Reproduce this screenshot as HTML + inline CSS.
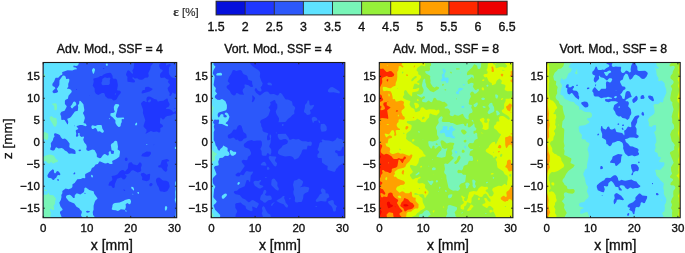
<!DOCTYPE html>
<html><head><meta charset="utf-8"><style>
html,body{margin:0;padding:0;background:#fff;}
body{width:685px;height:253px;overflow:hidden;}
svg{display:block;will-change:transform;}
text{font-family:"Liberation Sans",sans-serif;fill:#111;stroke:#111;stroke-width:0.35px;}
.t{font-size:11.5px;}
.cb{font-size:12.4px;}
.ti{font-size:12.3px;}
.al{font-size:13.5px;}
.ax{font-size:14px;}
.eps{font-size:11.5px;fill:#333;stroke:#333;stroke-width:0.2px;}
.ep{font-family:"Liberation Serif",serif;font-weight:bold;font-size:13px;}
</style></head><body>
<svg width="685" height="253" viewBox="0 0 685 253">
<rect width="685" height="253" fill="#fff"/>
<defs>
<clipPath id="c0"><rect x="43.10" y="62.50" width="133.60" height="155.20"/></clipPath>
<clipPath id="c1"><rect x="211.20" y="62.50" width="133.60" height="155.20"/></clipPath>
<clipPath id="c2"><rect x="379.30" y="62.50" width="133.60" height="155.20"/></clipPath>
<clipPath id="c3"><rect x="546.60" y="62.50" width="133.60" height="155.20"/></clipPath>
</defs>
<rect x="216.10" y="1.20" width="29.10" height="13.70" fill="#0510dc"/>
<rect x="245.20" y="1.20" width="29.10" height="13.70" fill="#1f37ff"/>
<rect x="274.30" y="1.20" width="29.10" height="13.70" fill="#2c58fa"/>
<rect x="303.40" y="1.20" width="29.10" height="13.70" fill="#5ee2ff"/>
<rect x="332.50" y="1.20" width="29.10" height="13.70" fill="#78f5b8"/>
<rect x="361.60" y="1.20" width="29.10" height="13.70" fill="#96f03a"/>
<rect x="390.70" y="1.20" width="29.10" height="13.70" fill="#dcfc00"/>
<rect x="419.80" y="1.20" width="29.10" height="13.70" fill="#ffa000"/>
<rect x="448.90" y="1.20" width="29.10" height="13.70" fill="#ff2800"/>
<rect x="478.00" y="1.20" width="29.10" height="13.70" fill="#ee0000"/>
<line x1="245.20" y1="1.20" x2="245.20" y2="14.90" stroke="#222" stroke-width="0.9"/>
<line x1="274.30" y1="1.20" x2="274.30" y2="14.90" stroke="#222" stroke-width="0.9"/>
<line x1="303.40" y1="1.20" x2="303.40" y2="14.90" stroke="#222" stroke-width="0.9"/>
<line x1="332.50" y1="1.20" x2="332.50" y2="14.90" stroke="#222" stroke-width="0.9"/>
<line x1="361.60" y1="1.20" x2="361.60" y2="14.90" stroke="#222" stroke-width="0.9"/>
<line x1="390.70" y1="1.20" x2="390.70" y2="14.90" stroke="#222" stroke-width="0.9"/>
<line x1="419.80" y1="1.20" x2="419.80" y2="14.90" stroke="#222" stroke-width="0.9"/>
<line x1="448.90" y1="1.20" x2="448.90" y2="14.90" stroke="#222" stroke-width="0.9"/>
<line x1="478.00" y1="1.20" x2="478.00" y2="14.90" stroke="#222" stroke-width="0.9"/>
<rect x="216.10" y="1.20" width="291.00" height="13.70" fill="none" stroke="#222" stroke-width="1"/>
<text x="216.10" y="30.8" text-anchor="middle" class="cb">1.5</text>
<text x="245.20" y="30.8" text-anchor="middle" class="cb">2</text>
<text x="274.30" y="30.8" text-anchor="middle" class="cb">2.5</text>
<text x="303.40" y="30.8" text-anchor="middle" class="cb">3</text>
<text x="332.50" y="30.8" text-anchor="middle" class="cb">3.5</text>
<text x="361.60" y="30.8" text-anchor="middle" class="cb">4</text>
<text x="390.70" y="30.8" text-anchor="middle" class="cb">4.5</text>
<text x="419.80" y="30.8" text-anchor="middle" class="cb">5</text>
<text x="448.90" y="30.8" text-anchor="middle" class="cb">5.5</text>
<text x="478.00" y="30.8" text-anchor="middle" class="cb">6</text>
<text x="507.10" y="30.8" text-anchor="middle" class="cb">6.5</text>
<text x="186" y="16.2" text-anchor="middle" class="eps"><tspan class="ep">ε</tspan> [%]</text>
<g clip-path="url(#c0)">
<rect x="43.10" y="62.50" width="133.60" height="155.20" fill="#1f37ff"/>
<path fill="#2c58fa" fill-rule="evenodd" d="M176.6 217.7L43.3 217.7L43.3 62.7L134.2 62.7L133.7 68.3L132.3 70.7L133.1 72.7L133.0 73.7L131.6 73.3L129.7 71.0L128.3 70.2L127.4 70.7L126.0 74.3L126.3 75.4L127.5 77.0L127.3 79.3L127.6 81.7L133.3 82.5L134.7 82.3L135.1 81.3L134.3 79.9L132.3 78.3L132.6 77.3L133.3 77.3L134.6 78.6L137.3 78.2L138.9 79.5L141.3 79.8L142.9 79.5L144.9 77.7L147.9 77.6L148.8 76.0L148.2 73.3L150.4 68.7L150.6 66.3L152.6 63.9L153.1 62.7L160.9 62.7L160.6 63.3L159.3 64.3L159.2 66.3L160.3 69.1L162.3 69.7L162.8 71.0L160.5 73.3L160.0 75.0L160.1 76.7L160.9 78.1L164.6 77.5L166.9 79.2L168.9 79.7L167.8 82.0L169.9 84.3L170.0 85.0L169.5 86.0L167.8 87.7L167.6 88.3L168.4 91.0L169.9 93.3L169.3 95.3L169.9 95.9L170.9 95.7L172.6 92.6L174.6 93.7L176.6 93.6L176.6 110.9L175.6 111.0L173.6 112.5L171.6 110.3L169.9 109.2L168.6 108.9L165.9 109.0L166.4 107.7L168.6 106.7L169.6 105.0L169.5 103.7L168.1 101.3L167.7 99.0L167.3 98.5L166.3 98.7L163.3 100.7L159.9 101.1L157.9 101.7L156.6 99.6L154.3 98.9L150.3 96.7L148.6 96.6L147.3 97.0L146.6 97.9L146.4 99.7L146.9 101.7L146.6 101.9L145.9 102.0L144.3 101.0L143.3 100.9L141.4 102.7L140.9 103.7L143.1 109.7L142.9 113.0L145.3 120.3L143.5 126.0L143.9 127.1L146.5 129.7L146.5 131.7L145.6 133.3L145.8 133.7L150.9 131.1L153.6 132.0L156.9 131.4L158.9 132.4L159.9 132.3L160.4 131.3L160.3 128.1L162.6 126.9L163.0 126.0L162.3 124.8L159.9 123.3L160.3 117.7L161.1 117.7L162.3 119.3L163.3 119.5L164.1 119.0L165.5 117.0L167.3 115.9L170.9 115.5L174.3 113.6L176.6 114.2L176.6 217.7ZM176.6 78.4L171.9 77.5L169.6 75.0L168.8 72.7L169.0 67.7L169.3 66.9L170.6 65.7L170.7 65.0L170.3 64.3L169.3 64.1L166.3 65.4L165.9 64.7L166.4 62.7L176.6 62.7L176.6 78.4ZM104.0 69.0L104.4 68.7L104.0 68.0L103.0 68.3L103.1 69.0L104.0 69.0ZM115.0 100.3L116.6 99.3L118.6 95.4L120.6 93.3L120.9 92.0L119.9 90.8L117.6 90.6L117.0 90.0L117.9 85.3L117.0 80.0L115.9 78.7L113.6 78.7L112.7 78.3L112.5 75.7L110.9 73.1L109.9 72.7L106.6 73.2L103.6 74.4L101.9 76.0L100.3 76.1L97.9 77.4L93.6 78.5L93.3 79.3L93.8 81.7L92.7 85.7L94.6 88.3L94.8 91.7L95.9 93.7L98.3 95.1L101.9 93.0L103.9 92.9L104.6 93.7L105.3 96.2L107.9 98.4L111.6 98.8L113.3 100.4L115.0 100.3ZM108.6 85.1L105.9 84.9L102.9 85.2L101.9 84.8L101.3 83.0L102.2 81.0L102.3 79.0L104.9 77.2L107.3 78.0L109.3 77.4L110.1 78.0L110.5 78.7L109.7 80.3L109.9 83.3L109.5 84.3L108.6 85.1ZM143.4 93.3L149.6 91.5L152.3 89.8L152.5 88.7L148.3 86.8L145.6 87.1L145.0 88.0L144.9 89.9L142.9 90.1L141.8 91.7L141.6 92.7L141.9 93.5L143.4 93.3ZM77.1 89.7L76.9 88.9L75.9 89.2L76.3 89.9L77.1 89.7ZM115.6 94.8L114.6 94.3L115.3 93.3L116.1 93.7L116.1 94.3L115.6 94.8ZM90.1 96.0L89.6 95.6L89.7 96.0L90.1 96.0ZM149.3 102.4L147.9 102.0L147.8 101.3L148.9 99.7L150.3 99.2L151.0 100.0L151.2 101.0L149.3 102.4ZM175.3 109.0L175.3 108.1L174.3 108.0L174.6 109.0L175.3 109.0ZM154.2 145.0L154.3 144.5L153.6 144.7L153.6 145.2L154.2 145.0ZM148.2 156.7L149.4 156.0L150.9 154.0L151.0 152.7L150.3 151.8L146.6 151.4L143.9 153.1L142.3 153.7L141.4 155.7L141.6 156.2L144.9 156.8L148.2 156.7ZM126.9 161.0L127.6 160.0L127.6 158.7L126.9 157.8L125.9 157.5L125.0 158.3L124.8 160.0L125.6 160.9L126.9 161.0ZM166.1 171.7L167.4 170.0L167.0 168.0L168.0 165.3L166.6 161.8L168.9 161.3L169.3 160.7L168.4 159.7L166.9 159.0L161.9 160.3L160.3 165.0L158.6 165.4L158.0 166.3L158.9 167.6L161.3 167.5L163.4 170.3L165.3 171.7L166.1 171.7ZM114.0 188.0L114.7 187.0L114.8 184.3L117.1 178.7L120.9 177.4L121.9 177.9L122.9 179.4L124.9 179.2L126.7 176.3L126.3 175.5L125.3 174.9L125.3 174.1L126.9 174.3L128.6 173.8L129.7 173.0L131.3 170.8L132.3 170.3L133.3 170.2L137.6 172.4L140.3 171.7L141.3 170.3L140.8 168.0L141.8 165.0L141.2 163.0L140.3 162.4L139.3 162.4L137.9 164.7L136.9 165.3L133.0 164.3L131.6 162.3L129.6 162.4L128.8 163.0L128.3 164.0L127.9 168.3L125.6 171.1L124.9 171.4L123.3 170.0L121.9 169.9L119.6 171.5L117.6 174.2L114.9 175.4L111.6 175.9L112.3 178.7L112.3 179.9L111.6 180.8L109.6 182.0L108.4 185.0L108.9 185.7L111.3 185.8L112.8 188.0L114.0 188.0ZM146.6 181.3L148.9 180.2L149.7 179.3L150.2 174.3L149.3 173.8L146.6 174.8L143.6 172.8L141.3 173.3L140.7 174.7L142.3 177.3L142.0 179.7L142.9 180.3L146.6 181.3ZM164.8 192.0L167.3 191.0L169.5 187.3L169.7 186.0L168.6 182.0L166.3 180.8L162.9 180.6L159.3 177.5L157.6 177.7L156.2 179.0L155.9 181.0L157.2 185.0L158.7 187.3L159.5 190.3L160.6 191.4L162.3 191.4L163.9 192.1L164.8 192.0ZM151.1 186.3L152.2 185.3L152.6 184.3L152.1 183.3L150.9 182.9L149.9 183.4L149.2 185.0L149.9 186.2L151.1 186.3ZM125.3 190.7L124.7 189.7L123.6 189.3L123.5 190.0L123.9 190.6L124.6 191.0L125.3 190.7Z"/>
<path fill="#5ee2ff" fill-rule="evenodd" d="M61.9 217.7L43.3 217.7L43.3 62.7L78.9 62.7L78.3 64.7L77.3 65.7L75.9 66.1L73.9 65.5L73.3 66.0L73.6 67.3L75.6 67.6L77.0 68.7L76.9 69.2L74.6 69.6L72.3 70.6L67.6 70.3L62.5 72.0L62.1 72.3L62.4 73.7L62.1 74.7L60.3 75.6L58.3 77.7L55.9 77.8L55.3 78.3L54.2 81.3L52.3 84.0L52.6 86.1L54.6 86.9L55.5 88.3L52.6 91.0L52.6 92.3L53.9 93.2L56.6 92.7L57.6 92.2L58.1 91.3L56.7 88.7L57.9 87.6L59.3 85.0L59.5 80.3L62.6 75.7L63.9 75.4L65.1 76.0L65.7 77.0L66.1 79.0L68.6 78.7L69.3 79.3L69.3 80.9L68.2 84.0L68.3 86.7L67.1 88.3L67.6 89.0L68.9 88.7L70.6 89.4L71.6 90.7L71.7 92.0L68.5 95.7L67.9 98.7L65.6 99.7L64.9 100.7L64.9 104.0L66.6 106.0L66.7 106.7L64.6 110.8L61.5 111.7L60.5 113.0L60.3 114.3L61.1 116.3L61.3 119.6L61.9 120.0L63.6 119.7L64.7 120.0L67.3 124.2L67.9 124.3L68.3 122.0L67.3 119.3L67.4 118.7L69.9 117.8L70.9 117.1L74.9 111.5L77.8 110.7L78.2 107.0L77.8 105.3L79.1 103.7L79.3 101.3L79.9 100.8L80.6 101.0L83.4 104.3L84.3 109.7L84.2 111.0L82.9 113.0L84.3 115.7L84.9 118.0L83.5 123.0L85.9 123.8L86.7 125.7L85.6 126.2L82.3 125.0L79.9 125.0L76.9 126.0L76.6 126.7L77.9 128.0L78.3 129.0L76.2 130.0L75.7 130.7L76.3 133.7L75.9 135.7L76.6 136.9L78.0 136.3L78.5 135.3L77.9 133.7L78.5 133.0L79.3 132.9L79.7 133.7L79.6 135.3L80.4 136.3L81.6 136.9L83.3 136.5L83.9 136.8L84.0 137.7L83.3 139.0L83.4 140.3L84.3 142.4L86.3 144.7L86.8 147.0L86.2 149.0L86.7 150.3L88.3 151.0L92.3 149.6L94.5 150.0L96.7 154.0L96.9 157.0L99.6 158.2L100.9 157.9L103.0 155.0L104.3 154.1L105.6 154.3L107.3 155.6L108.3 155.5L108.9 154.3L108.6 152.3L109.6 151.2L110.7 151.3L111.1 153.7L113.3 154.0L113.7 153.3L114.1 151.3L113.6 150.8L111.6 150.3L110.8 145.0L111.5 143.7L113.3 142.8L114.6 141.1L115.6 140.7L116.7 141.0L117.2 141.7L118.0 146.7L117.6 149.6L119.6 150.7L120.1 151.7L119.3 156.7L116.3 159.1L112.5 160.7L112.1 161.3L112.6 163.3L112.2 164.0L109.9 164.1L107.9 162.7L105.9 163.4L104.3 163.3L100.3 161.6L99.3 161.5L97.9 163.9L95.6 164.5L93.9 167.0L91.9 168.0L90.6 171.3L85.3 174.0L85.1 175.3L85.3 177.7L84.9 178.2L82.9 178.1L80.6 179.0L77.3 179.3L74.6 183.0L72.5 184.3L72.4 187.0L71.3 188.3L68.6 189.2L65.6 188.5L62.6 190.8L62.2 191.7L62.5 193.0L61.3 194.9L61.5 197.0L60.9 199.7L59.3 202.7L60.4 206.3L62.6 209.3L62.3 210.3L60.4 211.3L59.9 212.7L61.9 217.7ZM93.3 63.7L93.3 63.3L93.3 63.7ZM107.3 65.8L106.4 65.7L105.8 65.0L105.9 64.1L106.6 63.6L107.3 63.6L107.8 64.3L107.8 65.3L107.3 65.8ZM93.9 73.7L92.9 73.4L91.9 70.3L92.6 68.7L93.6 68.0L94.7 68.7L95.1 69.7L93.9 73.7ZM72.3 108.4L71.3 108.1L70.5 106.3L71.9 104.7L73.3 102.1L74.3 101.6L75.1 101.7L76.0 102.7L76.4 105.0L73.8 106.7L72.3 108.4ZM119.9 126.7L118.6 126.9L116.9 125.5L115.4 123.0L115.4 120.3L112.3 117.0L110.7 116.0L110.3 115.0L110.6 113.2L113.6 112.8L114.7 112.0L114.7 111.3L114.0 109.7L113.8 107.0L114.8 104.7L115.9 103.9L118.5 104.3L119.3 105.3L117.4 108.7L117.2 110.7L115.8 115.3L116.0 116.7L117.3 117.8L123.3 117.6L123.9 117.8L124.2 118.3L123.6 119.3L122.3 119.1L121.6 119.6L121.8 122.0L120.9 123.7L120.6 126.0L119.9 126.7ZM109.6 119.3L108.8 118.7L109.3 117.9L109.9 118.7L109.6 119.3ZM176.6 119.4L176.6 118.3L176.6 119.4ZM136.3 125.4L135.3 125.2L135.1 124.3L135.9 122.9L136.6 122.6L137.1 123.3L137.2 124.3L136.3 125.4ZM102.9 132.8L101.9 132.7L99.9 131.2L98.3 131.6L97.6 131.4L96.6 129.0L95.6 128.0L94.9 128.0L93.3 129.0L92.1 129.0L91.3 127.3L91.6 125.7L92.6 125.2L95.3 126.1L97.6 124.9L101.3 124.9L101.8 125.7L102.4 128.7L103.9 131.0L103.7 132.0L102.9 132.8ZM75.0 126.0L74.6 125.5L74.1 125.7L74.3 126.2L75.0 126.0ZM75.6 153.7L75.5 151.3L75.0 150.3L73.3 149.0L70.3 147.9L69.3 147.0L69.6 143.6L66.9 140.0L64.9 138.6L62.9 138.9L62.3 138.7L60.9 137.3L59.9 135.2L58.9 134.4L55.6 133.2L54.3 133.5L54.0 134.7L54.6 136.6L53.4 138.0L52.9 140.3L50.8 143.3L51.1 146.3L50.2 149.0L50.4 149.7L52.3 150.4L53.9 150.4L54.7 149.7L55.6 147.7L56.3 147.3L58.6 148.5L61.6 148.0L63.2 148.7L64.9 150.6L66.9 151.5L68.9 153.8L71.6 153.4L74.9 153.9L75.6 153.7ZM146.6 145.0L146.2 144.3L147.2 144.0L147.3 144.7L146.6 145.0ZM176.3 149.1L175.3 148.9L174.7 148.0L175.3 147.1L176.3 146.6L176.6 146.7L176.6 148.0L176.6 149.0L176.3 149.1ZM80.7 151.0L81.0 150.0L80.3 149.4L78.9 149.7L78.4 150.3L79.3 151.3L80.7 151.0ZM54.0 180.0L54.7 178.7L56.2 177.7L57.3 175.5L58.3 175.1L60.0 175.3L60.4 174.0L58.9 171.8L57.6 171.1L56.6 171.5L55.6 173.2L54.6 173.2L54.0 172.3L53.9 170.0L52.6 169.3L49.4 172.0L47.6 175.0L47.4 176.0L48.3 177.8L51.3 178.2L52.6 179.8L54.0 180.0ZM74.7 174.3L75.4 173.3L75.2 172.7L74.6 172.3L73.6 173.3L73.4 174.0L73.9 174.4L74.7 174.3ZM92.3 177.4L91.6 177.2L91.1 176.3L91.1 175.3L91.6 174.8L92.3 175.0L92.9 176.1L92.9 177.0L92.3 177.4ZM58.8 180.7L58.6 179.0L57.9 178.9L57.1 179.3L57.6 180.7L58.3 181.0L58.8 180.7ZM176.6 217.7L175.8 217.7L175.6 216.7L176.2 204.3L174.7 200.0L175.4 197.3L175.2 192.0L175.7 189.3L175.2 183.0L175.5 181.7L176.6 180.1L176.6 217.7ZM133.9 190.7L131.3 188.3L131.2 187.3L131.6 186.8L132.9 186.9L133.6 187.7L134.1 189.7L133.9 190.7ZM95.3 217.7L83.6 217.7L81.6 216.6L80.9 215.3L81.9 212.3L81.6 210.9L80.3 210.0L79.2 208.3L76.5 206.7L74.3 203.6L68.9 201.3L66.1 197.7L66.0 196.7L66.3 195.7L67.9 194.9L69.9 194.7L71.3 195.7L73.3 197.9L74.6 198.1L74.8 195.3L76.3 193.5L77.6 193.4L80.3 194.6L83.7 192.3L84.2 191.0L84.4 188.3L85.3 187.5L86.3 187.7L89.3 190.1L93.6 191.3L94.2 193.7L97.5 198.3L97.2 199.0L95.6 200.3L94.7 202.0L93.6 205.7L93.6 209.8L92.7 212.0L93.1 215.0L95.3 217.7ZM138.9 193.7L138.3 193.9L137.6 193.3L137.3 192.7L137.6 192.0L138.9 192.0L138.9 193.7ZM85.3 194.0L85.6 193.0L84.5 192.7L84.4 193.7L85.3 194.0ZM132.9 195.0L132.6 194.3L132.9 193.4L133.3 194.3L132.9 195.0ZM118.6 210.7L117.6 210.9L115.9 210.3L112.9 210.1L111.9 209.6L111.7 209.0L112.3 207.0L112.5 205.0L113.3 203.8L114.9 203.0L119.6 202.5L123.9 200.7L124.9 199.9L128.6 198.9L129.6 199.0L130.6 199.7L131.1 201.7L130.3 204.0L129.3 204.3L127.3 203.0L125.6 204.2L125.9 207.0L125.0 209.7L120.9 209.2L118.6 210.7ZM165.9 210.7L165.1 210.3L164.8 209.0L165.0 206.7L165.9 206.0L166.9 206.5L167.3 207.7L166.7 209.7L165.9 210.7ZM126.3 211.8L125.3 211.2L125.3 209.9L126.7 210.7L126.7 211.3L126.3 211.8ZM87.9 212.7L89.7 212.0L89.9 211.3L87.6 210.8L86.0 211.3L86.6 212.5L87.9 212.7Z"/>
<path fill="#78f5b8" fill-rule="evenodd" d="M44.9 76.5L44.3 76.6L43.3 76.0L43.3 74.3L44.3 74.1L45.0 74.7L45.3 75.7L44.9 76.5ZM55.9 110.2L54.9 110.2L54.4 109.7L54.2 106.0L51.6 103.7L55.6 103.2L56.4 103.7L56.8 104.7L57.1 108.3L56.6 109.7L55.9 110.2ZM55.3 126.8L54.6 126.8L53.8 126.0L49.6 118.7L49.6 117.3L50.9 116.3L51.9 116.2L53.6 117.7L55.9 118.1L56.6 118.8L57.0 122.7L56.3 125.7L55.3 126.8ZM47.3 139.9L46.3 139.9L44.3 138.9L43.3 138.8L43.3 132.5L44.9 132.1L48.3 133.7L48.3 138.0L47.3 139.9ZM43.3 148.7L43.3 147.0L43.5 148.0L43.3 148.7ZM53.6 163.5L52.9 163.4L51.3 162.0L50.5 162.3L49.9 163.4L48.6 163.6L47.6 163.1L45.9 161.0L43.3 161.4L43.3 156.7L45.9 155.4L49.3 154.5L51.3 154.7L54.0 155.7L55.9 158.9L57.8 160.3L58.1 161.0L57.3 162.0L55.3 162.5L53.6 163.5ZM46.6 191.0L44.9 191.0L44.5 190.3L44.7 189.7L45.3 189.3L46.2 189.7L46.7 190.3L46.6 191.0ZM50.6 217.7L43.3 217.7L43.3 194.8L46.8 194.7L47.8 193.7L48.3 192.6L48.6 192.6L49.7 195.0L53.3 195.3L56.0 198.7L55.2 201.0L55.1 203.7L53.6 206.0L54.3 208.7L54.1 209.7L52.9 210.2L50.6 208.7L49.9 209.6L50.0 210.7L51.0 212.7L50.4 214.7L50.6 217.7Z"/>
</g>
<path d="M43.30 217.70v-1.8M43.30 62.50v1.8M87.00 217.70v-1.8M87.00 62.50v1.8M130.70 217.70v-1.8M130.70 62.50v1.8M174.40 217.70v-1.8M174.40 62.50v1.8M43.10 76.30h1.8M176.70 76.30h-1.8M43.10 98.28h1.8M176.70 98.28h-1.8M43.10 120.27h1.8M176.70 120.27h-1.8M43.10 142.25h1.8M176.70 142.25h-1.8M43.10 164.24h1.8M176.70 164.24h-1.8M43.10 186.22h1.8M176.70 186.22h-1.8M43.10 208.20h1.8M176.70 208.20h-1.8" stroke="#222" stroke-width="0.9" fill="none"/>
<rect x="43.10" y="62.50" width="133.60" height="155.20" fill="none" stroke="#1a1a1a" stroke-width="1.1"/>
<text x="109.90" y="52.5" text-anchor="middle" class="ti">Adv. Mod., SSF = 4</text>
<text x="43.30" y="231.5" text-anchor="middle" class="t">0</text>
<text x="87.00" y="231.5" text-anchor="middle" class="t">10</text>
<text x="130.70" y="231.5" text-anchor="middle" class="t">20</text>
<text x="174.40" y="231.5" text-anchor="middle" class="t">30</text>
<text x="39.80" y="80.39" text-anchor="end" class="t">15</text>
<text x="39.80" y="102.38" text-anchor="end" class="t">10</text>
<text x="39.80" y="124.36" text-anchor="end" class="t">5</text>
<text x="39.80" y="146.35" text-anchor="end" class="t">0</text>
<text x="39.80" y="168.34" text-anchor="end" class="t">−5</text>
<text x="39.80" y="190.32" text-anchor="end" class="t">−10</text>
<text x="39.80" y="212.30" text-anchor="end" class="t">−15</text>
<text x="111.80" y="250" text-anchor="middle" class="ax">x [mm]</text>
<g clip-path="url(#c1)">
<rect x="211.20" y="62.50" width="133.60" height="155.20" fill="#1f37ff"/>
<path fill="#2c58fa" fill-rule="evenodd" d="M235.4 217.7L211.4 217.7L211.4 62.7L249.9 62.7L251.0 64.8L253.9 67.3L258.2 70.0L259.8 71.7L260.2 73.0L259.8 76.7L261.3 81.0L262.7 83.3L262.0 85.7L260.5 87.3L261.5 89.7L261.4 91.3L260.4 91.6L259.0 91.2L257.4 90.0L256.7 88.4L255.7 88.2L255.0 88.7L254.7 90.3L256.2 92.7L259.7 95.5L260.7 95.1L264.6 92.0L266.4 91.4L268.1 91.7L270.0 94.2L274.0 94.0L277.4 95.4L278.4 95.0L279.7 93.1L280.7 93.0L282.0 94.1L285.4 99.3L286.4 99.6L288.0 99.4L291.7 101.3L292.3 102.7L292.7 105.3L294.7 106.8L295.3 108.0L294.2 111.0L294.4 113.7L292.4 115.0L290.7 117.1L287.8 119.0L286.0 121.6L285.0 122.0L278.7 122.3L278.5 121.7L279.0 120.0L279.0 118.3L276.4 114.0L275.7 111.3L277.4 108.0L277.2 104.3L275.8 102.7L275.3 100.7L274.7 100.0L273.7 100.2L270.1 102.3L270.6 103.7L270.5 105.0L268.5 107.7L270.0 109.2L270.3 110.3L268.4 115.6L266.0 117.7L261.0 119.9L260.0 122.0L261.1 123.7L261.3 126.3L262.4 128.3L262.5 130.3L263.0 131.3L264.0 132.0L267.5 133.0L268.4 133.7L267.1 136.3L267.0 139.3L267.5 140.3L269.0 140.3L270.5 139.0L269.6 137.0L269.7 134.5L270.4 134.4L271.2 135.7L270.6 142.7L269.2 146.3L269.5 147.3L270.9 148.7L271.3 149.7L271.3 152.7L270.4 155.0L270.0 155.2L268.9 153.7L267.7 153.1L267.0 153.7L266.5 155.3L266.0 155.7L263.0 155.7L261.8 155.0L261.5 151.0L260.3 149.0L261.7 146.1L262.0 144.7L261.8 141.7L260.7 140.5L257.0 140.4L253.7 140.9L251.7 139.9L247.7 141.1L244.0 144.1L243.8 145.7L244.5 147.0L245.7 147.7L248.4 148.5L249.5 149.3L251.1 152.7L251.0 154.0L250.3 155.3L248.0 156.7L247.5 159.3L247.0 160.0L246.0 160.2L243.4 159.7L241.7 160.7L241.9 162.3L244.8 166.0L240.0 173.0L238.7 172.6L237.7 172.8L235.7 174.3L235.5 175.3L236.7 176.2L238.4 176.6L239.5 176.3L240.7 174.6L243.0 175.3L243.9 174.7L245.4 171.9L246.7 171.0L250.0 171.7L253.0 171.4L253.2 172.0L252.6 173.3L250.7 175.7L250.2 181.7L249.3 181.7L248.4 180.1L247.0 180.0L246.6 180.3L244.7 186.2L239.0 188.8L237.0 190.7L234.4 191.1L233.8 192.3L234.4 193.3L235.7 194.2L239.7 195.0L242.4 198.3L245.0 199.3L248.4 202.2L249.7 202.1L251.7 200.3L253.0 200.0L256.7 202.3L258.4 202.9L258.8 204.3L256.7 208.2L252.4 206.4L252.1 207.3L252.7 210.3L252.0 211.1L251.0 211.3L247.0 209.6L245.9 208.3L245.5 206.0L242.7 204.6L240.7 202.4L236.0 203.3L235.2 204.3L235.4 207.9L236.9 210.3L237.2 211.7L235.7 214.4L235.4 217.7ZM235.2 95.3L236.4 93.0L237.7 93.3L239.7 94.6L244.0 94.8L242.5 91.0L243.0 89.2L244.9 87.3L244.4 85.3L244.8 84.3L248.4 85.2L251.0 87.1L252.4 87.0L253.0 86.3L252.2 84.0L252.0 81.0L248.3 79.7L247.3 76.0L246.4 75.3L243.7 74.3L242.6 73.0L241.9 71.0L240.4 70.1L238.7 70.2L236.4 71.1L234.0 70.0L232.8 70.3L231.2 74.0L229.1 77.0L227.8 80.7L228.0 81.7L229.5 83.0L229.6 83.7L229.0 84.5L227.0 85.7L226.6 86.7L226.8 88.0L229.9 91.0L230.9 93.3L232.0 94.6L233.7 95.5L235.2 95.3ZM271.7 85.4L268.0 84.9L267.4 84.1L267.4 83.3L268.7 82.5L270.5 82.7L271.9 84.0L272.0 85.0L271.7 85.4ZM339.4 93.4L333.7 92.2L329.4 92.6L328.0 91.7L327.9 90.3L328.7 89.0L330.7 87.3L332.4 87.1L334.7 88.2L339.3 91.3L339.9 92.3L339.4 93.4ZM253.0 102.0L254.1 100.7L255.2 98.0L252.7 95.2L252.2 95.7L252.5 98.7L251.8 101.7L252.4 102.2L253.0 102.0ZM307.7 115.0L306.8 114.7L305.7 113.2L304.1 112.3L303.9 111.3L304.8 108.0L305.0 105.0L306.8 103.0L307.7 100.5L308.4 100.3L309.2 101.0L309.5 104.3L310.0 105.3L311.0 105.6L313.7 104.8L314.1 105.7L312.0 109.3L309.9 110.0L310.7 112.7L310.6 113.7L309.7 114.4L307.7 115.0ZM340.7 107.8L340.0 107.3L340.1 106.3L340.8 106.7L340.7 107.8ZM313.4 123.0L312.7 122.4L311.6 118.7L312.7 117.0L314.7 116.8L316.7 118.0L317.7 120.3L314.1 121.3L313.4 123.0ZM320.0 123.3L319.0 122.8L318.0 120.6L319.0 120.5L319.7 120.8L320.2 122.3L320.0 123.3ZM283.0 126.1L282.4 126.0L281.9 125.3L282.0 124.3L282.7 123.9L283.4 124.2L283.7 125.0L283.0 126.1ZM322.0 131.7L321.4 131.5L320.4 128.3L320.8 124.3L321.4 123.9L324.0 123.8L324.9 124.3L326.7 126.7L326.8 130.0L325.7 131.3L322.0 131.7ZM241.2 141.3L242.2 140.7L243.7 138.7L246.4 137.9L246.7 136.3L246.1 134.0L243.4 131.9L241.5 126.0L240.7 125.3L239.4 125.0L237.8 126.0L236.4 129.5L235.7 129.8L234.0 129.4L233.4 129.7L231.3 133.0L228.0 135.0L227.7 136.3L228.1 137.7L229.0 138.5L230.7 138.6L233.4 137.6L234.5 138.3L236.0 140.1L237.4 139.6L239.4 141.3L241.2 141.3ZM276.7 133.4L275.8 133.0L276.0 132.3L276.9 132.7L276.7 133.4ZM295.7 159.3L294.4 159.5L293.0 157.3L291.7 156.5L289.7 156.1L285.0 156.4L280.0 155.1L278.2 153.7L277.8 152.0L279.0 149.6L281.3 147.7L282.7 145.5L287.0 143.8L288.0 141.7L287.4 140.3L285.7 139.1L283.7 139.1L281.0 140.0L279.4 139.4L278.4 138.1L277.7 136.3L277.7 134.8L278.2 134.0L285.7 133.7L288.6 137.7L289.7 139.9L293.0 138.7L296.0 139.5L298.7 138.9L301.2 140.7L302.7 141.2L306.0 141.2L308.0 141.9L310.4 141.4L311.6 142.0L311.9 144.0L311.1 145.7L310.0 146.1L308.0 145.4L307.4 146.3L306.7 149.4L303.7 149.3L302.4 150.0L301.3 153.3L298.7 157.4L297.7 158.3L295.7 159.3ZM334.7 171.7L333.7 171.7L327.7 170.1L327.4 169.3L327.7 166.0L325.4 165.1L322.0 162.5L321.8 158.3L321.0 158.0L318.4 158.1L317.4 157.0L317.4 154.5L318.8 153.0L319.2 152.0L318.7 151.0L317.7 150.3L317.6 149.3L318.6 147.0L319.5 143.0L320.4 142.2L321.7 142.3L322.2 142.0L322.2 141.3L321.4 140.3L322.0 139.5L323.0 139.4L325.0 140.2L329.0 140.4L332.7 141.4L335.4 140.0L336.7 137.9L337.4 137.5L339.0 138.7L342.0 139.2L342.7 140.3L344.7 140.9L344.7 146.4L342.4 147.1L341.4 149.7L340.4 150.8L338.7 151.1L336.0 150.0L335.3 150.7L334.9 151.7L335.4 152.6L337.4 153.5L338.0 155.8L338.7 156.3L343.0 156.0L344.7 154.7L344.7 162.2L341.6 164.3L338.9 165.7L337.9 167.3L336.1 169.0L335.4 171.0L334.7 171.7ZM275.7 166.5L274.7 166.3L273.6 165.3L269.0 158.7L268.6 157.0L269.7 155.8L271.4 156.3L275.4 156.4L276.4 157.0L274.9 160.3L275.2 161.3L277.1 163.3L276.5 165.7L275.7 166.5ZM265.7 165.7L261.1 165.3L260.7 164.3L263.0 162.1L264.4 161.8L265.4 162.5L266.5 164.7L266.6 165.3L265.7 165.7ZM268.4 169.7L267.4 169.8L266.8 169.3L267.4 166.7L268.4 167.1L269.5 168.3L269.4 169.3L268.4 169.7ZM266.0 178.0L265.0 177.7L265.3 177.0L266.6 177.0L266.6 177.7L266.0 178.0ZM278.4 190.5L277.4 190.4L275.7 189.5L271.4 185.3L271.2 184.3L271.6 180.0L272.4 179.0L273.7 178.6L274.8 179.0L277.5 182.7L277.4 186.0L279.0 188.7L278.4 190.5ZM297.4 202.4L295.5 202.3L294.7 201.0L295.1 197.7L293.5 194.0L293.3 191.7L294.0 189.3L293.0 184.7L294.0 180.7L296.7 180.1L299.0 178.6L302.7 181.0L303.2 182.0L301.7 186.0L300.1 187.0L300.3 187.3L304.4 186.4L308.5 187.3L309.3 188.0L308.3 191.7L305.0 193.3L303.5 194.7L303.2 198.0L302.0 201.5L301.1 202.0L298.7 202.0L297.4 202.4ZM260.4 188.4L259.0 188.5L254.8 185.7L253.5 183.0L253.5 182.0L254.0 181.3L255.4 180.7L258.4 180.9L260.0 179.9L261.0 180.0L261.1 181.0L259.5 182.7L259.4 184.0L260.4 185.0L263.0 185.7L263.4 186.3L263.0 187.1L260.4 188.4ZM316.7 202.0L315.7 201.1L316.0 199.7L318.3 197.0L319.7 194.5L322.0 193.3L320.7 191.0L321.0 189.4L322.0 188.3L324.0 188.9L325.4 190.3L325.7 193.2L327.7 193.4L328.4 194.1L329.2 196.3L329.2 197.3L326.8 198.7L326.5 201.0L326.0 201.5L324.7 201.6L321.0 200.9L316.7 202.0ZM265.4 202.7L263.7 202.5L262.4 200.9L260.4 199.9L260.1 199.0L260.8 195.7L262.7 193.7L263.7 190.5L264.7 189.7L265.9 190.3L266.4 191.7L266.1 193.0L264.9 194.3L265.3 195.0L266.7 195.7L270.0 195.4L271.0 196.3L271.9 198.3L271.4 199.7L268.3 200.3L265.4 202.7ZM287.0 207.7L285.7 207.0L283.6 204.3L280.0 203.1L276.5 201.0L276.5 200.7L277.7 199.7L281.0 198.0L283.0 195.9L284.3 196.0L284.6 196.3L284.1 198.0L285.3 200.7L285.7 202.8L288.0 205.3L287.8 207.0L287.0 207.7ZM290.0 199.4L289.5 199.3L289.2 198.7L289.6 198.0L290.4 197.8L290.7 198.3L290.0 199.4ZM335.0 211.4L333.7 211.5L333.2 211.0L332.4 207.7L331.3 206.0L329.0 204.0L327.8 202.0L328.0 201.4L332.0 200.1L333.0 200.3L333.7 200.9L334.0 204.0L337.1 206.3L336.0 208.0L335.8 210.7L335.0 211.4ZM272.0 206.1L271.2 205.7L271.4 204.0L274.4 202.1L274.7 202.3L273.4 203.7L272.0 206.1ZM316.7 207.0L315.6 207.0L315.4 206.3L316.0 205.9L316.7 206.0L317.0 206.7L316.7 207.0ZM270.4 217.7L263.3 217.7L261.7 213.3L262.6 211.0L261.9 208.0L263.0 206.3L263.7 206.3L264.7 207.2L266.0 210.3L267.9 213.3L270.5 214.7L270.8 216.7L270.4 217.7Z"/>
<path fill="#5ee2ff" fill-rule="evenodd" d="M220.0 217.7L211.4 217.7L211.4 62.7L213.5 62.7L213.6 64.7L215.5 66.7L213.6 70.0L212.8 73.0L213.0 74.1L214.3 75.7L214.7 76.7L213.6 85.0L214.4 86.5L215.9 88.0L215.2 91.3L217.2 93.7L215.0 95.7L214.7 97.3L215.7 98.6L217.4 99.7L219.4 99.9L222.0 99.0L223.0 99.4L225.4 101.3L226.9 105.0L226.9 108.3L226.4 109.7L225.4 110.5L218.7 112.6L217.7 114.0L217.7 116.1L218.4 117.2L219.0 117.4L220.7 114.6L222.0 114.1L223.5 114.7L223.4 116.3L223.8 117.0L225.0 117.4L226.2 117.3L226.9 116.7L226.7 115.7L224.5 114.0L225.4 112.8L226.4 112.5L228.0 113.5L229.5 116.7L228.0 120.7L225.7 123.0L225.9 123.7L227.4 124.3L228.0 125.0L228.1 125.7L227.6 126.3L226.7 126.3L222.0 124.1L218.5 123.7L219.2 121.0L218.7 119.4L216.7 119.7L214.7 119.4L214.0 120.1L213.1 122.3L213.4 123.2L214.4 124.3L213.8 126.3L214.5 130.0L213.7 132.3L213.7 140.0L215.0 142.4L215.7 145.6L217.1 147.3L217.6 149.3L218.7 150.4L219.7 150.4L220.3 149.0L222.7 147.0L223.0 145.6L223.7 145.7L227.4 147.7L227.7 148.7L227.5 151.0L229.0 152.3L229.6 154.0L229.3 155.0L228.0 156.0L225.0 155.7L222.7 157.7L219.6 158.0L218.2 161.7L218.8 165.0L218.0 165.5L215.3 166.0L214.4 166.7L214.0 167.7L216.6 174.3L213.4 177.5L212.6 179.0L212.9 183.3L215.4 186.7L214.1 189.3L213.4 196.7L213.8 198.0L216.5 201.0L216.7 201.7L215.7 203.3L213.7 205.0L213.6 205.7L215.1 209.7L220.2 215.0L220.0 217.7ZM221.4 75.4L216.7 75.5L216.1 74.7L217.0 73.2L220.7 72.8L221.6 73.3L222.1 74.3L222.0 75.0L221.4 75.4ZM233.4 155.7L231.7 155.7L230.4 154.3L229.7 151.3L230.3 150.0L231.4 150.2L233.5 151.7L235.4 151.7L236.2 152.3L236.2 153.3L235.7 154.3L233.4 155.7ZM238.7 184.7L237.7 184.7L237.4 184.0L237.7 182.8L238.7 182.1L239.5 182.3L240.0 183.0L238.7 184.7ZM223.7 198.7L222.7 198.8L221.9 198.3L221.7 196.3L222.4 195.3L224.6 193.7L226.0 193.5L226.9 194.3L226.7 195.7L223.7 198.7Z"/>
<path fill="#78f5b8" fill-rule="evenodd" d="M211.4 119.1L211.4 102.5L212.3 105.7L213.7 107.7L212.7 111.0L212.3 116.0L211.4 119.1ZM211.4 145.0L211.4 142.8L211.4 145.0ZM211.4 163.0L211.4 148.4L212.0 149.7L214.0 151.9L216.5 153.3L217.1 154.3L214.7 156.5L215.0 160.0L212.4 161.7L211.4 163.0ZM211.4 193.2L211.4 188.0L211.8 191.0L211.4 193.2ZM213.4 217.7L211.4 217.7L211.4 207.1L211.8 209.3L211.7 212.0L213.6 214.7L213.4 217.7Z"/>
</g>
<path d="M211.40 217.70v-1.8M211.40 62.50v1.8M255.10 217.70v-1.8M255.10 62.50v1.8M298.80 217.70v-1.8M298.80 62.50v1.8M342.50 217.70v-1.8M342.50 62.50v1.8M211.20 76.30h1.8M344.80 76.30h-1.8M211.20 98.28h1.8M344.80 98.28h-1.8M211.20 120.27h1.8M344.80 120.27h-1.8M211.20 142.25h1.8M344.80 142.25h-1.8M211.20 164.24h1.8M344.80 164.24h-1.8M211.20 186.22h1.8M344.80 186.22h-1.8M211.20 208.20h1.8M344.80 208.20h-1.8" stroke="#222" stroke-width="0.9" fill="none"/>
<rect x="211.20" y="62.50" width="133.60" height="155.20" fill="none" stroke="#1a1a1a" stroke-width="1.1"/>
<text x="278.00" y="52.5" text-anchor="middle" class="ti">Vort. Mod., SSF = 4</text>
<text x="211.40" y="231.5" text-anchor="middle" class="t">0</text>
<text x="255.10" y="231.5" text-anchor="middle" class="t">10</text>
<text x="298.80" y="231.5" text-anchor="middle" class="t">20</text>
<text x="342.50" y="231.5" text-anchor="middle" class="t">30</text>
<text x="207.90" y="80.39" text-anchor="end" class="t">15</text>
<text x="207.90" y="102.38" text-anchor="end" class="t">10</text>
<text x="207.90" y="124.36" text-anchor="end" class="t">5</text>
<text x="207.90" y="146.35" text-anchor="end" class="t">0</text>
<text x="207.90" y="168.34" text-anchor="end" class="t">−5</text>
<text x="207.90" y="190.32" text-anchor="end" class="t">−10</text>
<text x="207.90" y="212.30" text-anchor="end" class="t">−15</text>
<text x="279.90" y="250" text-anchor="middle" class="ax">x [mm]</text>
<g clip-path="url(#c2)">
<rect x="379.30" y="62.50" width="133.60" height="155.20" fill="#5ee2ff"/>
<path fill="#78f5b8" fill-rule="evenodd" d="M512.8 217.7L379.5 217.7L379.5 62.7L512.8 62.7L512.8 217.7ZM447.7 83.0L448.4 82.0L448.6 78.3L447.8 77.4L445.5 77.8L444.5 77.0L444.7 73.3L445.8 72.0L445.9 71.0L444.5 69.0L443.1 68.6L442.6 69.3L442.6 70.3L443.7 73.0L441.7 74.7L442.4 77.7L441.2 79.7L441.1 80.9L441.8 81.4L445.1 81.0L445.7 81.3L446.4 83.0L447.7 83.0ZM460.8 73.3L461.2 72.7L460.8 72.3L460.1 73.0L460.8 73.3ZM464.5 85.3L464.8 84.3L464.5 83.9L462.6 84.3L463.5 85.4L464.5 85.3ZM458.3 94.3L459.0 93.7L458.8 91.7L463.1 89.3L463.1 88.5L460.1 87.8L458.6 88.3L457.8 90.9L456.1 91.9L455.8 92.7L456.6 94.0L458.3 94.3ZM463.5 108.0L464.3 107.3L464.1 106.3L463.1 105.7L461.8 106.0L461.4 106.7L461.6 107.7L462.5 108.1L463.5 108.0ZM454.7 138.3L455.3 137.3L452.6 135.3L452.2 132.7L452.7 131.3L454.8 130.3L455.4 129.3L453.2 128.0L452.5 126.2L451.5 126.1L449.2 127.3L449.2 129.7L448.1 130.2L447.4 130.0L447.0 129.3L447.7 127.3L447.3 126.3L443.8 126.0L442.8 126.3L442.7 129.0L440.1 131.1L439.7 132.0L440.1 133.0L441.1 133.4L443.5 132.8L444.5 133.1L445.0 134.0L445.5 136.0L446.5 136.9L449.5 137.1L452.8 138.6L454.7 138.3ZM468.3 136.7L468.5 136.0L467.8 135.7L467.5 135.9L467.5 136.5L468.3 136.7ZM466.1 148.0L465.7 146.3L465.1 146.1L464.5 146.3L464.3 147.0L464.8 148.0L465.5 148.3L466.1 148.0ZM456.5 153.7L457.1 152.7L457.2 151.7L456.5 150.9L455.5 150.8L454.8 151.3L454.9 152.3L455.8 153.6L456.5 153.7ZM455.5 185.7L455.8 185.0L455.2 185.3L455.5 185.7Z"/>
<path fill="#96f03a" fill-rule="evenodd" d="M512.8 217.7L457.6 217.7L455.4 216.0L455.4 214.3L454.6 212.7L455.0 211.7L456.8 209.7L457.1 207.7L456.5 207.1L450.1 204.9L448.5 205.3L447.7 206.0L447.6 208.3L446.7 210.7L447.4 213.7L446.2 216.0L446.0 217.7L428.5 217.7L428.3 216.0L430.3 215.0L430.6 214.3L428.8 211.1L426.8 210.1L424.5 211.1L422.2 213.7L420.5 213.9L419.5 214.4L418.9 216.3L419.8 217.7L379.5 217.7L379.5 62.7L430.9 62.7L431.2 65.3L429.7 66.7L430.1 69.0L429.8 70.3L428.5 71.3L425.8 70.9L425.3 71.3L425.2 72.3L426.1 73.5L430.3 76.0L430.1 78.3L430.6 80.7L430.4 83.0L432.8 86.8L434.8 87.8L436.1 86.5L436.8 86.4L438.9 87.3L439.1 88.3L438.1 89.3L433.5 92.3L430.1 91.1L426.4 86.7L426.1 84.3L425.3 82.3L425.3 79.7L424.8 78.8L424.1 78.8L423.0 80.3L421.9 85.0L422.0 86.0L423.6 89.3L423.6 91.0L423.1 92.6L422.1 93.9L420.1 94.8L417.5 94.2L416.8 94.7L416.9 95.0L421.5 97.8L423.5 96.3L424.8 96.4L425.1 97.3L424.7 98.3L422.1 99.7L422.1 101.3L422.8 102.0L426.1 102.5L428.1 100.7L428.8 100.5L430.5 102.0L431.5 102.2L432.2 101.7L433.6 98.3L434.8 97.7L435.8 98.3L437.1 100.2L439.8 100.4L442.7 102.0L444.5 101.7L447.1 104.0L447.6 105.0L447.2 106.0L445.0 107.0L444.5 108.0L445.1 108.5L447.8 108.5L449.1 109.6L450.3 111.7L449.5 114.3L450.5 115.8L452.8 116.3L454.8 114.5L456.8 115.4L458.5 115.7L462.5 113.7L463.1 114.3L463.9 116.3L465.1 118.0L466.5 119.0L468.1 119.6L468.8 119.0L468.4 116.3L469.2 114.0L469.8 113.4L472.1 112.7L472.6 111.3L472.3 109.7L471.2 107.7L471.9 105.0L469.1 104.4L468.7 103.7L469.2 100.0L471.1 96.3L470.0 94.3L470.1 93.7L471.1 91.9L472.1 91.4L473.3 92.0L474.5 93.7L476.1 93.5L478.5 91.3L479.0 90.3L478.8 89.3L478.1 88.7L477.5 88.9L476.1 90.2L475.1 89.9L472.8 86.7L473.7 84.0L473.1 82.9L471.1 82.8L468.8 84.1L467.9 83.7L467.4 81.3L468.1 79.7L469.8 78.7L471.5 76.9L473.0 77.7L473.8 78.9L473.9 77.0L473.5 75.4L472.5 74.7L470.1 74.6L467.8 75.2L467.1 75.1L466.8 73.7L467.5 71.7L472.1 67.6L474.1 64.2L475.1 64.4L477.1 65.8L477.8 68.7L478.8 69.0L480.0 68.7L481.0 66.7L481.2 62.7L512.8 62.7L512.8 217.7ZM459.5 69.4L456.1 69.6L455.8 69.0L456.1 68.4L456.8 68.2L459.8 68.6L459.5 69.4ZM451.5 73.4L450.2 73.0L450.5 71.5L451.5 71.9L451.8 73.0L451.5 73.4ZM443.1 85.7L442.4 85.7L442.0 85.0L442.5 84.1L443.1 83.8L443.8 84.3L443.9 85.0L443.1 85.7ZM487.7 86.7L488.3 86.3L488.5 85.7L488.1 84.9L487.5 84.6L486.5 85.3L486.4 86.0L486.8 86.5L487.7 86.7ZM446.1 90.3L445.1 90.5L444.4 89.7L444.8 89.2L445.8 89.2L446.3 89.7L446.1 90.3ZM497.2 98.7L498.3 96.0L497.3 94.7L495.8 94.2L495.1 95.0L495.6 97.7L496.1 98.3L497.2 98.7ZM483.7 100.0L484.9 99.3L484.8 98.3L483.1 97.6L481.5 98.0L481.3 98.7L481.8 99.8L482.5 100.1L483.7 100.0ZM456.5 99.5L455.8 99.0L456.5 98.3L456.9 98.7L456.5 99.5ZM475.3 107.3L476.5 106.6L477.6 104.7L477.8 103.3L477.1 102.2L473.3 104.7L474.3 107.0L475.3 107.3ZM489.3 114.3L490.6 113.3L493.1 112.2L494.4 110.7L494.0 107.0L492.8 105.3L492.2 103.0L491.8 102.7L489.8 103.3L488.3 105.7L489.8 108.7L487.5 112.3L488.5 113.9L489.3 114.3ZM485.4 107.7L485.7 107.0L485.1 106.4L483.5 105.9L482.8 106.1L482.7 107.0L483.3 107.7L484.5 108.0L485.4 107.7ZM498.2 115.3L499.7 114.3L499.9 113.3L497.8 110.7L496.5 110.5L495.8 111.3L496.5 113.0L496.7 115.3L497.1 115.6L498.2 115.3ZM458.0 191.0L460.0 189.0L460.0 188.0L459.0 186.3L459.8 184.7L461.1 183.5L464.1 182.5L465.2 181.7L466.1 175.3L465.5 174.7L463.1 174.7L461.5 173.1L458.3 173.3L457.4 172.3L457.4 171.0L458.1 170.0L458.8 169.7L461.8 170.6L462.9 169.0L463.6 166.3L464.5 165.6L467.5 164.6L468.8 161.1L469.8 160.7L472.1 161.0L473.0 160.3L473.2 159.0L472.5 156.5L471.8 156.0L469.8 155.8L469.3 154.7L470.1 151.5L471.1 150.7L472.9 150.0L473.4 149.3L470.1 148.7L468.3 146.7L468.0 145.3L468.5 144.2L469.8 143.0L472.5 143.3L473.4 143.0L474.8 140.1L477.8 138.5L477.2 135.7L477.2 133.7L476.8 133.0L475.8 132.7L474.1 133.9L473.5 133.3L473.6 131.0L475.8 130.4L476.5 128.7L474.7 126.7L474.3 124.0L473.8 123.3L472.7 125.0L470.1 126.9L468.8 127.4L467.6 126.3L468.1 124.3L467.5 123.0L466.4 123.7L466.3 125.7L465.5 126.2L464.6 125.7L463.8 124.1L462.8 123.7L456.8 124.9L452.8 123.1L450.7 123.0L449.5 121.9L442.8 121.9L441.6 121.0L442.7 117.7L442.4 116.7L441.5 116.3L440.1 117.0L438.5 118.7L438.2 119.7L438.8 122.7L436.3 126.3L435.8 127.7L437.0 130.7L437.1 135.0L438.5 137.0L438.7 139.0L436.5 140.5L432.8 141.4L428.8 141.0L428.2 142.0L428.8 145.7L431.1 148.7L432.0 148.0L432.6 146.0L433.5 145.4L434.6 146.3L434.5 148.0L435.1 148.7L436.1 148.3L438.8 146.1L439.8 146.1L440.7 146.7L441.7 148.3L441.2 150.3L439.1 152.3L436.4 156.3L437.1 157.1L441.5 157.7L444.9 157.0L445.7 156.3L446.0 152.0L447.4 148.7L447.1 148.0L445.8 148.8L444.8 148.9L442.0 147.7L440.5 142.3L440.8 140.7L441.8 140.3L443.1 140.5L446.8 143.4L449.8 142.5L453.1 142.7L454.2 143.3L454.3 144.0L453.2 146.0L453.4 148.3L451.5 150.7L452.4 153.3L451.4 155.7L453.4 157.3L453.7 158.3L447.8 163.9L445.5 163.4L444.2 164.0L445.0 169.0L444.1 172.0L444.5 173.2L446.2 175.0L446.5 178.7L448.5 187.7L450.5 189.4L453.1 190.7L455.5 190.6L458.0 191.0ZM473.6 122.3L473.1 120.4L472.5 119.8L471.8 119.9L471.7 120.7L472.2 121.3L473.5 122.6L473.6 122.3ZM453.3 121.0L453.4 120.7L452.8 120.4L452.8 121.1L453.3 121.0ZM464.8 134.4L464.1 134.6L463.1 134.2L461.2 131.7L461.0 130.7L461.8 129.5L464.5 129.8L466.6 131.7L466.6 132.7L464.8 134.4ZM419.6 132.7L419.9 132.0L419.5 131.5L418.8 131.1L418.3 131.3L418.1 132.0L418.5 132.6L419.6 132.7ZM423.2 140.0L423.1 139.5L422.8 139.5L422.8 140.1L423.2 140.0ZM465.5 142.4L464.1 142.3L463.5 141.0L464.1 140.2L465.5 139.8L466.2 140.0L466.5 140.7L466.3 141.7L465.5 142.4ZM437.5 145.1L435.8 144.7L435.7 143.7L436.5 143.3L437.1 143.5L437.7 144.3L437.5 145.1ZM479.9 147.0L479.8 146.3L479.4 147.0L479.9 147.0ZM463.8 152.8L462.5 152.8L461.7 152.3L461.8 150.7L462.5 149.8L463.5 149.8L464.6 150.7L464.7 152.0L463.8 152.8ZM456.1 164.1L454.8 163.9L454.2 162.3L456.8 160.0L457.5 157.7L458.6 156.0L459.5 155.6L460.5 157.0L460.5 158.3L458.4 162.0L456.1 164.1ZM432.8 159.7L432.7 159.0L432.1 159.1L432.1 159.8L432.8 159.7ZM429.4 166.3L429.0 165.7L428.2 166.0L428.5 166.5L429.4 166.3ZM435.5 170.0L435.7 168.0L435.3 167.7L433.5 167.3L432.0 168.3L431.9 169.3L432.5 170.2L435.5 170.0ZM417.1 175.3L419.5 173.4L419.1 171.8L415.4 174.7L415.8 175.5L417.1 175.3ZM493.6 178.7L494.3 177.7L493.5 177.1L492.9 177.3L492.7 178.0L493.0 178.7L493.6 178.7ZM442.3 178.7L441.8 178.3L441.6 178.7L441.8 178.9L442.3 178.7ZM475.1 188.0L476.0 186.3L474.9 184.0L475.7 181.3L474.5 180.0L473.1 179.4L472.5 179.8L472.2 180.7L472.7 184.0L472.5 186.0L473.5 187.8L474.5 188.2L475.1 188.0ZM437.5 182.3L437.9 181.7L437.9 180.7L437.1 180.0L436.5 180.0L435.9 181.0L435.8 182.0L436.5 182.5L437.5 182.3ZM431.4 185.3L433.4 182.3L433.4 181.3L432.1 180.4L429.8 181.2L427.8 180.2L427.6 181.0L428.9 183.0L430.5 184.9L431.4 185.3ZM486.9 183.3L487.8 182.7L487.9 182.0L487.5 181.7L486.5 181.9L485.9 182.7L486.0 183.3L486.9 183.3ZM467.2 188.3L468.0 187.7L468.5 186.0L469.8 184.3L468.9 183.0L467.5 182.4L465.8 182.8L465.2 184.0L465.9 186.0L465.8 188.0L466.5 188.5L467.2 188.3ZM482.5 183.7L481.7 183.7L482.5 183.7ZM439.7 188.7L440.6 187.3L439.8 186.5L439.0 187.7L439.1 188.5L439.7 188.7ZM446.8 191.7L446.4 190.3L445.8 190.1L445.2 190.3L445.0 191.0L445.5 191.7L446.1 191.9L446.8 191.7ZM438.7 192.0L439.2 191.3L438.8 190.9L438.2 191.7L438.7 192.0ZM450.0 198.3L451.1 197.7L452.2 196.0L452.3 194.3L449.5 194.5L448.5 195.1L448.0 196.3L448.1 197.4L448.8 198.2L450.0 198.3ZM475.5 204.0L474.7 203.7L475.1 204.2L475.5 204.0ZM462.2 213.3L463.2 212.7L462.8 212.3L461.5 212.7L461.1 213.3L461.5 213.6L462.2 213.3ZM486.3 214.0L486.5 213.3L486.1 212.9L485.1 213.3L485.4 214.0L486.3 214.0Z"/>
<path fill="#dcfc00" fill-rule="evenodd" d="M411.1 217.7L379.5 217.7L379.5 62.7L423.8 62.7L424.5 63.1L425.3 64.7L425.1 66.0L424.5 66.2L421.8 65.2L420.8 65.4L417.5 67.8L416.5 69.7L416.8 70.9L418.2 71.7L418.2 74.3L420.9 75.7L421.2 77.3L420.3 79.0L417.0 81.7L417.1 82.4L419.3 83.3L419.5 84.0L419.1 84.8L418.5 85.0L416.5 83.8L414.4 83.7L412.8 88.7L413.5 89.1L415.5 88.9L418.8 87.7L419.2 88.7L418.4 90.7L417.1 91.5L412.5 92.3L412.2 93.0L412.1 95.7L411.5 96.4L408.1 93.3L406.6 90.7L405.5 90.1L404.8 90.3L403.9 92.0L404.3 94.7L402.9 96.7L402.9 97.3L403.5 98.3L406.1 99.8L410.2 101.0L410.4 101.7L409.6 103.7L409.6 104.7L411.1 107.3L414.3 109.0L414.8 111.2L415.8 112.3L419.5 111.0L420.2 110.0L420.8 107.8L422.5 107.2L423.5 107.5L425.1 109.3L426.5 110.0L429.1 109.2L434.5 109.6L436.5 110.6L438.5 109.6L439.1 110.0L439.6 111.0L439.3 112.7L436.5 115.5L432.5 114.4L430.8 113.5L429.8 113.8L429.3 114.7L429.1 117.4L427.1 119.3L425.1 122.3L421.5 121.9L420.0 120.3L417.1 118.6L416.0 120.0L414.8 120.6L409.8 121.1L407.5 121.0L406.7 121.7L407.1 123.0L411.4 125.0L411.7 126.3L411.4 128.3L410.5 130.2L407.3 132.7L406.3 134.0L406.4 136.3L406.0 138.7L408.5 141.1L410.8 142.0L412.6 143.7L416.1 145.9L418.5 147.0L419.6 148.7L421.8 150.2L423.1 152.0L423.8 153.9L425.3 155.0L425.7 156.0L425.1 156.7L422.8 156.5L419.3 158.3L418.3 163.0L416.1 166.0L414.1 165.8L411.5 164.9L410.1 165.3L409.9 166.7L412.9 171.7L412.1 173.0L410.1 174.6L410.0 175.7L412.1 179.0L413.1 179.5L415.8 178.0L417.8 177.8L419.8 176.6L420.5 176.8L420.6 177.7L420.2 178.3L418.5 179.0L418.0 179.7L417.5 181.3L417.7 182.7L419.1 183.4L422.5 183.1L424.8 184.3L425.3 185.0L424.9 187.0L425.2 188.0L428.4 191.3L428.7 192.3L428.3 193.7L426.4 196.0L426.0 197.3L425.1 197.8L424.5 197.4L424.0 195.3L422.5 194.0L418.8 194.4L415.9 193.0L414.4 193.3L414.5 194.7L418.5 194.7L419.8 196.3L422.4 198.3L422.8 202.3L425.2 207.3L424.0 208.7L420.5 210.5L419.1 212.0L417.1 213.3L415.8 215.3L412.1 216.7L411.1 217.7ZM512.8 91.4L511.8 91.0L507.5 91.3L505.1 90.3L504.5 89.0L505.4 87.0L505.4 85.3L504.1 84.5L501.5 83.9L501.2 83.0L502.0 81.0L499.8 78.8L499.1 78.8L496.7 80.7L495.5 84.0L492.5 85.3L491.9 84.7L491.7 83.0L489.5 81.9L488.4 80.7L487.1 77.4L486.5 77.1L485.1 77.4L484.1 76.8L483.4 75.3L483.6 74.7L484.8 74.1L486.8 74.0L487.7 73.0L487.5 71.5L486.4 70.0L487.5 68.0L487.8 64.3L488.7 62.7L492.8 62.7L493.0 64.0L495.2 65.0L495.6 67.7L496.5 68.2L499.8 66.9L502.5 66.7L504.8 67.8L506.2 67.3L507.1 66.3L507.1 65.7L504.5 62.7L512.8 62.7L512.8 63.9L510.9 64.7L511.8 65.1L512.8 64.8L512.8 91.4ZM495.8 63.9L495.1 63.6L494.5 62.7L496.5 62.7L495.8 63.9ZM505.1 71.0L502.5 69.7L502.0 70.0L502.6 70.7L505.1 71.0ZM403.1 73.3L403.5 72.0L402.8 71.4L402.1 71.9L401.8 73.0L402.1 73.6L403.1 73.3ZM412.2 81.3L413.1 80.7L414.5 78.9L416.5 77.7L416.7 76.7L416.5 76.0L415.5 76.0L414.2 76.7L411.7 79.0L411.2 80.7L411.5 81.2L412.2 81.3ZM483.8 81.1L482.5 81.1L481.8 80.3L482.8 79.5L484.1 79.2L484.5 80.0L483.8 81.1ZM483.5 90.4L482.5 90.3L481.7 89.3L481.7 88.0L482.5 87.2L483.1 87.2L483.9 88.3L484.1 89.3L483.5 90.4ZM397.7 89.0L397.7 88.3L396.8 88.7L397.7 89.0ZM508.8 94.7L508.3 94.7L508.8 94.7ZM512.8 217.7L495.8 217.7L495.6 215.7L493.5 211.6L492.8 211.4L490.8 212.7L489.8 212.4L489.4 211.0L489.8 210.1L491.1 209.8L492.8 210.7L493.1 210.5L493.5 209.0L492.9 208.0L490.8 206.3L489.5 205.8L488.5 206.3L487.5 207.8L486.5 207.9L482.8 205.7L482.3 205.0L482.6 204.0L484.5 203.5L485.4 202.7L485.4 201.7L484.1 198.7L484.5 197.9L486.3 198.0L488.1 201.1L490.1 201.9L490.5 201.2L490.6 200.0L490.3 199.3L488.3 197.0L487.0 194.7L485.8 193.6L483.8 194.2L482.3 196.7L481.5 197.0L479.5 196.8L477.5 195.2L474.1 194.3L473.3 196.0L471.6 198.0L471.5 201.7L470.8 203.6L467.8 202.2L467.1 202.3L466.1 205.3L464.0 206.7L464.2 208.7L463.8 209.4L462.5 209.5L461.1 209.1L460.6 208.3L460.5 207.3L460.8 205.3L463.3 203.7L463.9 202.3L463.7 201.7L462.4 200.7L462.5 198.7L461.3 196.7L461.5 195.6L462.1 195.6L463.5 196.8L465.1 197.2L464.0 198.7L464.0 200.0L464.8 200.9L466.5 200.9L468.0 197.7L468.0 196.0L469.3 192.0L473.5 191.1L476.5 191.5L477.2 191.0L478.5 188.5L480.5 186.8L481.8 186.3L484.8 187.0L487.1 186.8L487.8 187.2L488.0 189.0L486.1 189.7L485.5 191.0L488.1 192.9L489.5 195.9L491.5 196.5L492.6 195.7L493.7 193.7L493.5 192.3L492.2 190.3L492.4 189.0L493.1 187.9L498.5 185.8L499.5 185.7L501.5 186.2L504.5 183.8L505.1 183.9L506.5 185.2L507.1 184.9L507.1 182.3L507.9 178.7L507.5 176.1L506.8 175.4L504.7 174.3L503.1 171.3L497.6 167.7L496.9 164.3L497.0 162.3L495.5 159.0L496.9 158.0L497.1 157.1L496.5 156.6L495.1 156.5L494.7 156.7L494.5 157.9L493.5 157.7L492.5 155.7L487.5 152.7L486.1 151.7L485.6 150.7L486.2 149.3L488.4 147.7L489.5 145.3L492.1 142.5L493.5 141.9L494.8 141.8L495.5 144.0L495.8 144.4L496.1 144.3L498.5 139.0L501.0 134.7L500.7 134.0L499.1 133.2L496.5 130.0L494.5 128.7L493.8 127.3L494.1 125.7L496.2 124.0L496.5 122.0L497.1 121.5L499.1 121.4L499.4 121.0L498.8 118.3L499.2 117.0L500.8 116.0L502.8 115.9L504.1 116.5L508.5 119.7L509.1 119.7L509.9 119.0L509.8 118.0L508.1 115.9L502.8 112.7L502.0 111.7L501.7 110.7L502.0 110.0L503.7 109.0L504.1 108.3L504.1 103.9L505.6 101.0L505.6 98.7L509.1 98.8L511.4 97.7L511.9 97.0L512.0 95.3L512.8 94.8L512.8 217.7ZM501.8 100.0L500.9 99.7L501.1 98.7L502.5 98.1L503.3 98.3L502.9 99.3L501.8 100.0ZM418.5 101.0L417.1 100.9L416.8 100.0L417.1 99.2L417.8 99.0L418.6 99.7L418.9 100.3L418.5 101.0ZM484.8 102.4L484.3 102.3L484.5 102.0L484.8 102.4ZM416.8 108.4L415.8 108.5L415.1 108.0L415.0 106.0L414.1 103.7L414.5 102.8L415.5 102.8L417.8 103.6L418.9 104.7L418.9 106.7L416.8 108.4ZM423.3 119.3L424.8 118.0L424.5 117.0L423.5 116.4L422.5 117.0L421.9 118.7L422.1 119.4L423.3 119.3ZM486.8 129.7L485.1 129.9L482.2 128.7L483.1 126.7L483.0 125.7L482.0 122.7L480.1 120.8L479.7 119.7L480.2 119.0L482.8 117.8L483.8 118.0L484.4 119.0L484.6 120.0L483.9 122.0L485.1 122.7L486.8 122.8L487.8 122.0L486.8 119.7L487.1 118.7L488.5 118.4L489.6 119.3L489.6 120.3L488.7 122.3L488.6 128.3L488.2 129.0L486.8 129.7ZM404.5 134.0L404.3 133.0L403.1 132.8L403.3 133.7L404.5 134.0ZM483.5 133.4L481.3 133.3L481.0 132.7L481.5 132.5L483.5 133.4ZM413.5 141.5L412.1 141.5L411.9 141.0L412.5 139.3L413.1 139.0L414.1 139.3L414.5 140.0L414.2 141.0L413.5 141.5ZM400.6 150.3L400.7 149.3L399.8 148.4L399.4 149.0L399.5 149.9L399.8 150.3L400.6 150.3ZM494.0 152.7L494.1 151.8L493.1 151.9L493.4 152.7L494.0 152.7ZM501.6 156.7L502.3 155.3L502.2 154.0L501.8 153.7L500.5 154.3L499.9 155.7L500.2 156.7L501.6 156.7ZM477.8 161.6L476.9 161.0L477.1 159.6L478.0 160.7L477.8 161.6ZM421.5 167.4L420.5 167.6L419.9 167.0L420.8 165.9L421.8 165.7L422.1 166.4L421.5 167.4ZM491.8 174.7L490.7 174.3L491.1 173.3L492.8 173.1L494.0 173.7L493.3 174.3L491.8 174.7ZM433.8 174.8L433.8 173.9L434.2 174.3L433.8 174.8ZM510.7 176.7L511.4 175.0L511.1 174.3L510.1 174.1L509.2 174.7L509.1 175.3L509.8 176.4L510.7 176.7ZM420.3 189.0L419.5 188.1L418.7 188.3L419.1 189.0L420.3 189.0ZM404.5 189.3L404.1 188.5L403.1 188.7L404.5 189.3ZM479.1 200.2L478.3 200.0L477.9 199.0L478.2 198.0L479.1 197.4L480.0 198.3L479.8 199.4L479.1 200.2ZM468.5 211.1L467.4 211.0L467.1 210.3L467.3 209.7L469.3 207.3L470.5 204.8L470.8 204.4L471.5 204.5L473.2 205.7L473.5 206.7L471.9 208.0L471.1 209.7L468.5 211.1ZM444.1 207.9L443.4 207.7L442.8 205.9L444.1 207.0L444.1 207.9ZM505.7 207.0L506.2 206.3L505.8 206.0L504.8 206.2L505.0 207.0L505.7 207.0ZM433.8 212.7L432.8 212.1L432.6 211.3L434.1 210.1L434.6 210.7L433.8 212.7Z"/>
<path fill="#ffa000" fill-rule="evenodd" d="M406.1 217.7L379.5 217.7L379.5 62.7L402.3 62.7L401.5 65.0L403.4 66.3L403.1 67.3L402.5 67.5L400.5 65.9L399.5 65.9L398.8 66.3L398.3 70.3L397.2 72.0L397.3 77.0L396.9 80.0L395.7 83.0L395.5 85.7L393.1 86.6L390.8 88.3L388.5 88.1L386.1 86.9L383.8 86.7L383.0 87.0L382.6 88.0L383.0 90.3L383.8 91.3L386.5 90.7L390.5 91.2L391.7 93.3L392.6 97.0L392.7 99.0L393.5 99.3L394.8 99.1L395.8 101.4L397.1 101.6L401.1 100.4L403.3 101.3L404.1 102.3L403.5 104.7L404.5 106.4L404.6 107.7L404.1 108.5L401.8 110.3L401.4 112.3L402.9 115.7L404.5 116.7L404.9 118.7L403.8 119.8L399.1 119.3L398.6 120.0L398.5 122.0L397.1 123.2L396.6 124.7L396.8 126.0L397.5 127.2L398.5 128.3L399.8 128.7L400.1 129.7L399.5 130.1L396.5 130.1L395.6 130.7L396.3 134.7L396.1 135.3L395.5 135.7L394.5 135.7L394.1 135.3L394.5 133.3L393.8 130.7L393.1 130.0L391.5 130.6L389.1 134.5L385.1 133.5L384.6 134.0L386.1 137.6L389.5 135.3L391.1 135.7L392.1 136.7L392.1 137.3L391.5 138.1L388.6 138.7L387.5 143.5L385.8 143.2L385.5 143.7L386.5 146.3L389.1 147.3L390.0 148.3L390.2 149.7L389.5 151.7L390.4 153.0L392.1 153.9L393.5 154.1L398.1 152.5L400.5 153.8L402.8 153.5L408.8 155.8L409.6 155.7L410.8 154.4L411.8 154.5L412.4 155.0L412.0 157.3L409.1 161.8L406.5 163.9L405.3 166.7L403.8 167.8L398.5 169.0L397.1 169.7L394.7 171.7L394.5 172.7L395.2 174.0L394.1 174.7L393.7 175.7L394.1 176.7L395.8 176.8L397.8 178.8L403.8 181.1L405.1 182.7L404.7 183.7L403.5 184.7L400.5 184.9L399.1 186.1L397.1 186.7L396.0 189.0L396.4 190.0L399.5 192.8L401.5 191.4L402.5 191.2L403.7 191.7L405.5 193.3L408.8 193.2L409.5 193.0L410.5 191.7L411.1 191.6L411.9 192.7L412.1 196.3L413.5 197.4L415.8 197.8L415.5 200.0L415.8 201.3L418.6 204.3L418.4 207.7L417.8 208.5L415.1 208.6L412.1 210.6L411.1 211.8L408.5 211.7L407.1 212.5L406.5 213.7L406.1 217.7ZM387.6 66.0L387.9 65.3L387.0 65.3L386.8 66.0L387.6 66.0ZM414.1 67.5L413.6 67.3L413.7 66.7L414.8 65.3L415.2 65.7L415.1 66.3L414.1 67.5ZM493.5 72.0L492.1 71.9L491.5 71.3L491.8 69.3L491.3 67.3L491.8 66.4L492.8 66.6L493.3 67.3L494.0 70.7L493.5 72.0ZM511.1 77.0L510.1 76.7L509.8 76.0L511.0 74.0L510.5 71.7L511.1 71.1L512.8 70.7L512.8 76.9L511.1 77.0ZM502.5 76.4L501.5 76.3L500.8 75.3L500.8 74.3L501.5 73.7L502.5 73.7L503.2 74.3L503.2 75.3L502.5 76.4ZM407.8 76.1L406.5 75.9L406.2 75.0L406.5 74.3L407.1 74.2L407.6 74.7L408.0 75.7L407.8 76.1ZM512.8 83.1L510.8 81.6L510.4 80.7L510.8 80.0L512.8 78.7L512.8 83.1ZM389.6 96.3L389.8 94.7L388.8 93.5L388.4 94.0L388.5 95.7L388.8 96.4L389.6 96.3ZM510.1 111.5L507.5 110.2L506.0 107.3L506.3 106.3L508.1 105.3L509.1 103.7L509.8 103.5L511.2 104.0L512.1 105.7L511.4 106.7L510.1 111.5ZM512.8 106.8L512.5 106.0L512.8 105.8L512.8 106.8ZM511.5 113.0L510.8 113.1L510.5 111.9L511.2 112.3L511.5 113.0ZM398.7 116.3L399.1 115.3L398.8 114.8L398.1 114.8L397.7 116.0L398.1 116.5L398.7 116.3ZM413.8 118.1L412.6 118.0L413.8 117.0L414.2 117.3L413.8 118.1ZM388.9 124.7L388.8 124.2L387.8 124.1L386.8 124.3L386.6 124.7L387.8 125.0L388.9 124.7ZM406.8 129.5L405.8 129.4L405.3 128.3L405.8 126.5L406.5 126.0L407.8 126.2L408.5 127.0L408.2 128.0L406.8 129.5ZM512.1 134.4L510.8 134.3L510.6 133.7L511.1 133.2L512.0 133.3L512.5 134.0L512.1 134.4ZM512.8 148.2L512.0 147.3L511.5 145.0L510.5 144.4L508.8 145.0L506.8 147.9L506.1 148.0L505.3 145.3L505.1 138.0L505.5 137.2L507.8 136.8L509.8 135.6L511.5 136.5L512.8 136.4L512.8 148.2ZM500.1 148.4L497.8 147.7L498.5 145.7L499.5 144.8L500.7 145.3L501.4 146.7L501.1 147.8L500.1 148.4ZM498.8 152.4L498.1 152.2L498.1 151.3L498.8 150.9L499.5 150.9L499.8 151.7L498.8 152.4ZM509.8 171.4L508.7 171.3L507.1 168.1L505.1 167.0L506.8 164.3L507.1 161.0L508.1 159.9L509.1 159.5L510.8 160.3L511.1 163.3L512.8 164.9L512.8 170.4L509.8 171.4ZM403.5 174.8L402.1 174.1L401.6 173.0L402.1 171.1L403.1 170.1L403.8 170.3L404.2 171.0L403.5 174.8ZM386.3 180.3L386.9 179.7L387.3 177.7L386.5 177.1L385.8 177.4L385.2 178.7L385.5 179.8L386.3 180.3ZM505.5 201.8L504.1 201.6L501.4 199.7L500.7 198.7L500.8 197.7L502.1 196.4L503.5 195.8L504.1 195.8L505.5 197.0L506.3 197.0L506.8 195.7L506.3 193.0L506.7 191.7L509.1 189.9L510.5 187.2L511.5 186.7L512.8 186.7L512.8 201.3L510.5 199.3L509.5 199.0L508.8 199.3L507.8 201.0L506.5 200.9L505.5 201.8ZM425.5 193.7L424.5 192.7L424.8 191.2L425.5 191.3L426.3 192.3L426.1 193.3L425.5 193.7ZM400.8 198.3L401.3 197.3L400.5 195.9L399.1 195.5L397.8 196.3L397.8 197.0L398.5 197.7L399.8 198.3L400.8 198.3ZM510.1 216.0L509.6 215.7L509.8 215.3L510.8 215.3L510.9 215.7L510.1 216.0Z"/>
<path fill="#ff2800" fill-rule="evenodd" d="M396.8 62.7L396.0 62.7L397.1 62.7L396.8 62.7ZM379.5 88.4L379.5 67.4L380.1 68.5L380.8 68.9L383.1 68.5L386.5 72.1L387.5 72.0L389.8 71.0L391.5 71.3L393.8 73.7L394.3 74.7L393.7 76.0L391.8 77.1L388.5 77.1L386.8 76.1L382.6 77.7L382.0 79.0L382.3 81.3L382.1 83.0L379.5 88.4ZM387.8 81.6L387.1 81.4L386.5 80.3L386.8 79.4L387.5 79.0L388.1 79.2L388.4 80.0L387.8 81.6ZM379.5 103.5L379.5 92.9L380.1 94.3L381.9 95.7L382.2 98.0L383.3 99.3L382.6 100.7L380.1 101.9L379.5 103.5ZM387.8 101.7L387.2 101.7L388.1 101.1L388.4 101.3L387.8 101.7ZM387.1 102.1L387.1 101.7L387.1 102.1ZM379.5 119.8L379.5 104.2L380.1 105.6L381.7 106.7L380.6 108.7L380.5 109.7L381.4 110.3L382.8 110.1L384.5 109.3L385.0 108.7L384.6 106.7L383.3 105.0L383.5 102.9L384.1 102.4L386.8 102.1L386.7 105.3L390.4 107.3L390.4 107.7L387.2 110.3L388.3 117.7L388.1 118.9L386.8 118.5L381.8 118.0L380.1 118.7L379.5 119.8ZM396.8 111.7L395.7 111.3L396.1 110.5L397.1 110.2L398.2 110.7L397.9 111.3L396.8 111.7ZM379.5 130.0L379.5 120.5L380.2 123.7L379.5 130.0ZM379.5 135.1L379.5 132.1L379.5 135.1ZM379.5 140.5L379.5 136.7L380.0 138.7L379.5 140.5ZM379.5 178.4L379.5 141.9L380.1 144.0L381.8 145.1L382.3 146.0L380.7 150.3L380.8 152.0L381.4 153.0L383.5 154.6L384.1 154.7L386.1 153.8L388.1 154.2L391.5 156.3L393.1 158.5L394.1 159.0L397.1 158.9L398.8 158.1L400.5 158.8L402.5 158.8L403.3 158.3L403.8 156.7L404.5 156.4L405.5 156.7L406.0 157.7L405.5 158.7L404.1 159.7L402.8 163.1L402.1 163.0L399.8 159.8L398.5 159.8L397.4 166.3L396.1 167.4L391.9 168.7L391.6 171.7L390.5 173.0L389.5 173.1L387.8 171.9L385.1 171.4L383.5 169.9L382.5 170.0L382.0 171.0L382.7 173.0L381.1 175.0L380.7 177.3L379.5 178.4ZM388.9 163.3L389.1 162.7L388.5 162.3L388.1 163.3L388.9 163.3ZM401.5 217.7L393.7 217.7L393.0 213.0L389.1 212.3L388.3 212.7L386.5 214.7L387.1 217.7L379.5 217.7L379.5 180.5L380.5 181.5L382.1 182.3L382.4 183.0L382.0 184.0L380.2 185.3L380.1 187.4L381.1 188.7L382.9 189.3L385.4 193.3L385.1 194.3L384.1 194.8L382.1 193.2L380.8 193.0L380.4 194.0L381.2 197.0L382.1 197.4L383.8 196.5L387.0 197.0L387.6 196.3L388.0 194.0L388.8 193.1L390.5 192.6L392.3 193.0L393.1 195.7L394.9 197.7L398.0 199.7L398.2 200.7L397.0 202.7L397.1 203.3L399.7 207.7L402.5 210.7L402.2 211.7L399.9 213.0L399.5 213.7L399.7 215.0L401.4 216.7L401.5 217.7ZM405.5 211.4L404.5 211.2L403.3 208.3L400.8 206.6L400.2 205.7L401.6 202.3L403.3 200.7L403.9 198.7L404.5 198.1L405.8 198.4L408.1 199.6L410.1 201.9L412.7 203.3L414.4 205.7L413.9 207.0L412.5 208.5L410.8 209.2L407.8 209.8L405.5 211.4Z"/>
<path fill="#ee0000" fill-rule="evenodd" d="M379.5 73.6L379.5 71.8L379.5 73.6ZM379.5 115.5L379.5 111.6L379.9 113.3L379.5 115.5ZM379.5 159.6L379.5 153.8L381.1 156.7L379.5 159.6ZM379.5 169.5L379.5 165.0L380.7 167.3L379.5 169.5ZM379.5 217.5L379.5 198.7L380.4 201.0L379.5 203.0L380.0 205.0L379.8 208.0L381.7 211.7L379.5 217.5ZM389.5 208.1L388.8 208.3L388.1 208.0L386.8 204.0L387.1 202.3L388.5 201.5L389.7 202.0L390.5 204.3L392.1 204.8L393.1 205.7L392.3 206.7L389.5 208.1ZM405.8 206.4L404.1 206.2L403.2 205.0L404.1 204.3L406.5 204.3L407.8 204.7L408.6 205.7L408.5 206.0L405.8 206.4ZM395.5 207.3L394.9 207.0L394.8 206.4L395.7 206.7L395.5 207.3Z"/>
</g>
<path d="M379.50 217.70v-1.8M379.50 62.50v1.8M423.20 217.70v-1.8M423.20 62.50v1.8M466.90 217.70v-1.8M466.90 62.50v1.8M510.60 217.70v-1.8M510.60 62.50v1.8M379.30 76.30h1.8M512.90 76.30h-1.8M379.30 98.28h1.8M512.90 98.28h-1.8M379.30 120.27h1.8M512.90 120.27h-1.8M379.30 142.25h1.8M512.90 142.25h-1.8M379.30 164.24h1.8M512.90 164.24h-1.8M379.30 186.22h1.8M512.90 186.22h-1.8M379.30 208.20h1.8M512.90 208.20h-1.8" stroke="#222" stroke-width="0.9" fill="none"/>
<rect x="379.30" y="62.50" width="133.60" height="155.20" fill="none" stroke="#1a1a1a" stroke-width="1.1"/>
<text x="446.10" y="52.5" text-anchor="middle" class="ti">Adv. Mod., SSF = 8</text>
<text x="379.50" y="231.5" text-anchor="middle" class="t">0</text>
<text x="423.20" y="231.5" text-anchor="middle" class="t">10</text>
<text x="466.90" y="231.5" text-anchor="middle" class="t">20</text>
<text x="510.60" y="231.5" text-anchor="middle" class="t">30</text>
<text x="376.00" y="80.39" text-anchor="end" class="t">15</text>
<text x="376.00" y="102.38" text-anchor="end" class="t">10</text>
<text x="376.00" y="124.36" text-anchor="end" class="t">5</text>
<text x="376.00" y="146.35" text-anchor="end" class="t">0</text>
<text x="376.00" y="168.34" text-anchor="end" class="t">−5</text>
<text x="376.00" y="190.32" text-anchor="end" class="t">−10</text>
<text x="376.00" y="212.30" text-anchor="end" class="t">−15</text>
<text x="448.00" y="250" text-anchor="middle" class="ax">x [mm]</text>
<g clip-path="url(#c3)">
<rect x="546.60" y="62.50" width="133.60" height="155.20" fill="#2c58fa"/>
<path fill="#5ee2ff" fill-rule="evenodd" d="M680.1 217.7L546.8 217.7L546.8 62.7L605.8 62.7L606.9 63.7L608.9 64.7L609.4 65.7L608.9 66.7L606.1 68.2L604.1 70.0L602.8 69.5L601.1 70.1L598.4 70.1L597.6 69.3L596.9 67.0L595.8 66.6L594.2 70.0L592.4 71.7L592.2 73.3L592.8 74.5L595.3 75.7L594.0 78.3L593.7 80.3L594.1 81.6L595.4 82.7L599.2 78.7L598.8 76.3L599.1 75.6L600.8 77.3L603.8 78.0L606.8 80.5L607.4 80.3L609.1 78.2L611.4 78.3L612.3 79.3L611.5 81.3L610.8 82.2L609.8 82.5L607.1 81.3L606.4 81.7L605.9 83.0L606.2 87.7L605.8 88.8L601.4 88.8L600.8 89.2L599.6 90.7L598.4 91.0L594.8 87.1L592.8 89.2L592.2 91.3L593.4 92.8L593.7 95.3L594.8 96.5L598.4 96.5L601.1 98.3L604.1 97.5L606.1 97.6L608.1 96.7L612.2 98.0L611.4 99.0L609.8 98.7L608.1 99.2L606.1 98.9L605.4 99.1L604.9 100.3L605.8 101.6L608.8 102.2L611.1 101.3L615.4 101.3L617.8 101.9L617.9 102.3L617.5 103.0L614.3 105.0L613.3 108.3L613.6 109.7L615.1 111.7L615.9 114.3L618.1 116.2L619.1 116.5L620.8 116.3L622.4 118.0L625.4 118.5L627.4 120.0L629.4 118.3L629.8 116.3L631.1 114.3L631.3 112.7L630.7 109.0L628.1 106.3L628.9 103.7L628.7 102.3L627.8 101.3L625.8 101.2L625.5 100.3L626.0 99.7L629.8 97.5L631.6 97.0L631.7 96.7L630.0 92.0L629.1 91.2L627.4 91.1L626.4 91.6L625.6 92.7L624.6 98.7L623.4 99.1L622.4 98.6L621.7 96.3L620.4 95.0L620.3 94.3L621.8 92.9L623.1 90.6L625.2 89.3L625.6 88.0L624.8 86.7L622.1 86.3L620.1 82.3L620.1 81.3L620.8 80.5L622.8 79.4L623.8 76.0L625.8 73.5L627.8 74.5L629.4 79.1L630.1 79.7L632.1 78.4L634.1 75.3L635.8 74.5L639.1 76.2L641.4 78.6L642.8 78.9L644.4 78.7L646.4 76.7L647.8 73.7L647.3 72.3L645.1 70.7L639.4 71.1L637.9 70.7L637.4 69.7L637.3 66.7L635.6 64.0L635.4 62.7L680.1 62.7L680.1 217.7ZM624.1 72.8L622.4 72.9L621.2 72.0L620.7 70.3L621.2 67.7L620.8 66.7L618.1 66.8L615.8 66.4L613.1 67.1L612.1 66.3L611.7 65.3L612.1 63.4L612.8 62.9L614.6 62.7L632.6 62.7L631.2 65.7L630.6 69.3L630.9 71.3L630.6 72.0L629.4 72.4L627.9 71.0L626.1 70.4L624.1 72.8ZM607.4 75.8L606.4 75.9L605.5 75.3L604.1 72.7L604.1 71.9L606.4 72.1L609.1 70.5L610.4 70.7L611.0 71.3L611.2 72.3L608.8 73.6L607.4 75.8ZM578.9 99.3L579.3 97.0L578.5 95.3L578.4 93.3L577.8 92.0L576.4 90.8L573.4 90.5L572.6 89.7L572.7 89.0L574.1 87.3L573.9 86.3L572.8 85.7L570.8 87.3L568.9 87.3L568.6 87.0L568.7 85.0L568.4 84.3L567.8 84.2L566.8 84.6L566.1 85.4L565.7 87.0L566.1 87.7L567.4 88.3L567.1 91.0L567.8 93.7L569.4 94.5L571.4 93.1L572.1 93.1L575.4 97.3L578.4 99.6L578.9 99.3ZM595.4 86.3L596.2 85.0L595.8 84.1L595.0 85.3L595.1 86.6L595.4 86.3ZM577.3 86.0L577.9 85.3L577.1 84.6L576.4 85.0L576.1 85.7L577.3 86.0ZM588.8 89.0L589.5 88.3L589.1 87.6L587.8 87.4L587.0 88.0L586.9 88.7L587.4 89.2L588.8 89.0ZM616.1 90.5L615.7 90.3L615.8 90.0L616.4 90.0L616.1 90.5ZM643.9 98.7L644.6 97.7L643.7 95.3L642.4 95.1L641.1 95.7L640.5 97.0L640.6 98.7L641.4 99.0L643.9 98.7ZM653.7 101.0L654.0 100.0L652.8 96.5L650.1 95.4L648.3 95.7L648.1 97.0L649.1 98.8L652.1 101.1L652.8 101.3L653.7 101.0ZM634.3 102.7L636.8 100.7L637.7 99.3L637.6 97.3L636.8 95.8L635.8 96.1L632.4 99.6L632.3 101.0L632.8 102.3L633.4 102.9L634.3 102.7ZM615.8 98.3L614.4 98.0L614.0 97.3L614.9 96.3L616.4 96.1L616.9 96.7L616.8 97.3L615.8 98.3ZM587.1 107.3L588.0 106.7L588.5 105.3L588.2 103.7L587.4 102.3L586.4 101.7L584.4 101.6L581.6 102.3L581.2 103.0L581.4 104.0L583.8 106.6L585.1 107.4L587.1 107.3ZM619.1 108.1L618.5 107.7L618.5 107.0L618.9 106.3L619.4 106.2L619.9 106.7L620.0 107.3L619.1 108.1ZM643.5 115.7L644.1 115.0L644.1 114.3L643.3 112.0L642.8 111.7L641.7 112.7L641.4 114.3L642.4 115.5L643.5 115.7ZM634.9 156.3L638.1 155.2L639.1 154.3L639.0 153.3L638.0 152.0L638.6 150.3L638.4 149.3L637.1 148.2L634.8 147.6L632.8 146.6L630.1 146.2L628.1 143.7L625.9 142.0L625.1 139.6L625.4 139.0L627.1 138.7L629.8 137.4L634.1 137.5L636.8 138.3L638.4 137.3L638.7 136.3L638.4 135.4L636.8 134.5L636.4 134.0L636.6 128.7L635.2 126.3L637.1 122.3L637.3 119.3L639.2 116.7L639.3 115.7L638.4 115.3L637.1 115.4L635.4 116.0L634.4 116.9L631.0 122.7L631.4 126.7L630.4 127.3L628.4 126.5L627.8 126.7L625.8 129.7L624.1 130.7L624.5 134.3L624.1 135.5L622.9 133.7L622.0 133.0L616.4 131.9L615.0 128.3L612.4 129.4L611.1 129.5L610.1 129.0L609.1 126.8L608.4 126.5L607.4 127.0L606.3 129.3L605.4 129.6L602.8 128.3L602.1 126.1L601.1 126.2L600.7 129.7L602.2 134.0L602.1 137.7L605.6 139.7L606.1 140.7L606.4 144.0L607.8 144.6L609.0 146.0L610.1 146.2L611.3 145.3L612.5 142.7L614.8 142.3L617.4 140.9L619.4 141.1L621.8 142.3L622.7 143.3L623.3 146.3L623.1 148.3L624.8 153.0L625.6 154.0L628.3 156.3L632.1 155.2L634.1 156.3L634.9 156.3ZM618.5 125.0L619.4 124.0L618.4 123.2L617.8 123.6L617.6 124.3L617.8 125.0L618.5 125.0ZM623.5 126.0L624.1 125.3L624.1 124.7L623.1 124.4L622.2 124.7L622.0 125.3L622.4 125.9L623.5 126.0ZM623.4 130.0L623.4 128.7L622.4 127.6L621.8 128.3L621.8 129.0L622.4 129.8L623.4 130.0ZM598.5 135.3L599.2 134.3L598.4 133.6L597.6 134.0L597.3 135.0L597.8 135.5L598.5 135.3ZM616.9 165.7L620.8 162.3L621.4 156.4L622.5 155.0L622.1 154.4L618.1 154.0L613.1 156.3L612.5 157.0L612.1 159.0L610.1 161.7L610.0 162.3L610.4 162.8L614.8 163.2L615.4 165.5L616.1 165.9L616.9 165.7ZM639.5 163.0L639.7 162.3L639.4 161.8L638.8 161.6L638.1 162.0L638.1 163.0L638.8 163.3L639.5 163.0ZM632.8 175.0L633.3 172.7L633.8 172.0L635.8 171.0L637.8 171.2L638.6 170.0L638.9 167.7L637.2 165.0L636.1 164.3L632.8 164.1L631.4 164.6L630.9 165.3L631.3 168.3L632.7 172.0L631.5 174.0L631.4 175.0L632.1 175.3L632.8 175.0ZM602.3 169.0L602.9 168.3L602.8 166.9L601.8 166.1L600.8 166.1L600.3 167.0L600.3 169.0L600.8 169.3L602.3 169.0ZM604.0 192.0L604.8 189.3L603.8 186.3L604.4 185.9L606.8 186.4L608.0 186.0L608.5 183.0L610.9 181.0L611.8 181.2L613.4 183.1L615.5 186.7L618.4 187.2L618.9 190.0L620.1 190.6L621.8 190.5L622.1 190.0L619.6 187.0L619.6 186.0L620.8 185.2L622.1 185.2L624.1 185.7L625.8 188.3L627.8 189.3L630.1 187.6L631.1 187.8L632.8 188.8L635.1 187.9L637.8 188.0L639.8 187.1L640.5 186.0L638.1 184.0L636.4 181.4L634.1 181.0L631.4 179.6L625.4 180.8L623.8 180.6L621.4 179.8L619.8 180.7L618.8 180.8L618.3 180.3L617.9 178.0L616.9 176.3L615.8 175.3L614.4 175.2L613.1 175.7L610.4 177.9L606.8 177.8L605.4 178.2L604.2 180.3L602.8 180.8L599.4 183.0L597.0 185.3L596.7 187.0L597.8 190.2L601.8 192.0L603.4 192.3L604.0 192.0ZM653.1 184.0L652.8 183.0L651.9 183.0L652.1 184.2L653.1 184.0ZM657.9 195.3L658.4 194.9L658.6 194.0L657.4 193.1L656.4 192.9L655.9 193.7L656.1 194.8L656.8 195.3L657.9 195.3ZM614.5 204.3L616.3 202.0L616.9 199.7L619.4 199.4L622.8 200.3L623.6 200.0L623.9 199.3L621.2 195.7L616.8 193.1L615.1 193.7L614.2 195.0L614.8 198.3L613.8 199.9L613.6 201.7L614.0 204.0L614.5 204.3ZM633.8 214.3L634.5 213.7L634.6 212.0L635.2 210.3L635.2 208.7L635.6 207.7L636.5 207.0L638.8 207.2L639.4 206.8L640.4 205.0L640.7 203.0L641.3 202.3L642.1 202.2L643.8 203.2L644.8 202.9L647.1 198.0L647.1 195.9L642.4 195.5L640.1 193.6L639.1 193.6L635.7 197.0L635.3 198.0L635.5 199.7L635.0 200.3L633.0 202.3L629.4 203.7L627.8 205.2L627.5 206.3L628.1 207.2L630.1 207.7L630.1 208.3L629.2 209.3L629.5 210.0L632.1 211.4L633.1 213.9L633.8 214.3ZM602.9 196.0L602.2 195.3L601.5 195.7L602.1 196.1L602.9 196.0ZM628.6 215.7L629.3 214.0L629.1 213.3L628.4 212.9L627.4 213.7L627.1 215.0L627.8 215.9L628.6 215.7Z"/>
<path fill="#78f5b8" fill-rule="evenodd" d="M589.4 217.7L546.8 217.7L546.8 62.7L573.3 62.7L570.8 63.4L568.8 66.3L568.8 67.7L571.4 68.3L571.6 70.0L571.0 71.7L568.4 73.4L566.5 78.3L563.8 79.8L562.8 79.6L561.8 78.0L561.2 78.7L560.1 82.0L561.8 84.7L562.1 86.3L561.1 89.0L560.3 94.0L560.8 94.7L563.1 95.7L564.8 99.1L567.4 100.0L570.4 101.6L573.8 102.1L575.5 104.3L578.7 106.3L579.2 107.7L579.1 109.7L581.4 109.5L583.1 111.1L585.4 111.9L590.4 112.3L591.8 113.7L592.0 116.0L591.3 117.3L590.4 117.8L587.4 118.2L586.9 119.0L587.1 119.8L589.2 121.3L589.3 122.7L584.8 125.2L579.8 125.8L578.9 126.7L578.6 128.0L579.3 131.7L582.0 135.0L581.6 137.7L581.9 138.7L583.1 139.4L585.1 139.3L586.4 141.8L589.1 143.0L589.6 144.0L587.6 148.7L587.6 150.0L588.6 153.0L588.8 155.7L587.0 164.7L587.1 167.7L586.5 168.7L585.1 169.4L583.2 174.0L583.7 175.7L584.9 178.0L585.7 183.0L586.6 185.0L588.1 187.0L586.8 191.3L588.9 196.3L587.9 198.0L585.3 200.3L584.2 202.0L580.8 202.6L579.1 203.7L578.8 204.7L579.3 206.0L580.1 206.8L583.1 207.6L583.5 208.0L583.1 208.7L581.1 209.0L580.0 212.0L580.2 213.3L580.8 213.7L581.8 213.7L586.4 212.1L587.8 212.2L589.4 217.7ZM680.1 217.7L663.3 217.7L663.4 216.0L661.9 213.0L664.5 211.3L664.9 208.3L664.5 205.0L665.8 203.0L666.4 200.0L666.1 198.3L664.8 196.3L663.8 193.7L663.9 190.3L663.1 188.0L663.8 183.7L663.4 183.0L660.3 180.3L659.1 178.3L656.2 175.3L655.9 172.7L655.2 171.0L655.4 170.0L656.1 169.5L659.4 170.1L660.4 169.7L664.1 165.8L664.5 163.0L663.8 162.2L661.2 162.3L658.8 161.4L660.6 158.7L660.9 157.7L660.4 157.1L658.1 156.4L657.6 153.3L656.8 152.5L655.1 151.9L654.8 151.3L654.8 150.0L655.8 147.3L654.9 144.7L656.2 142.3L656.4 141.0L655.5 135.7L654.1 132.3L656.0 130.3L656.1 126.0L655.4 125.1L654.8 124.9L653.1 125.5L651.4 127.0L648.7 126.0L649.0 123.3L647.9 119.7L649.8 117.0L653.6 114.3L654.5 113.0L654.7 111.0L653.4 105.0L655.1 103.9L658.1 104.3L660.4 102.0L662.1 102.5L662.8 102.3L663.2 101.7L663.4 99.3L666.4 92.7L666.1 88.7L664.8 86.0L664.6 83.3L662.1 80.7L661.1 80.6L659.4 81.3L658.5 81.0L658.1 80.3L658.6 78.3L656.7 75.3L656.0 69.3L654.8 68.3L655.1 67.8L655.8 67.7L656.6 68.7L657.4 68.8L658.9 68.0L658.5 67.3L656.9 66.3L655.9 62.7L680.1 62.7L680.1 217.7ZM577.1 74.2L575.8 74.1L574.9 73.0L576.4 71.0L576.4 69.3L576.8 69.0L577.4 70.0L577.1 71.3L577.6 73.3L577.1 74.2ZM661.8 200.7L661.1 200.0L661.8 199.2L662.2 200.0L661.8 200.7Z"/>
<path fill="#96f03a" fill-rule="evenodd" d="M564.4 217.7L546.8 217.7L546.8 62.7L564.3 62.7L563.3 66.3L561.1 68.4L558.1 68.9L557.0 70.7L554.7 72.7L553.2 76.3L554.1 80.3L555.8 81.0L556.3 81.7L555.8 84.7L557.7 87.0L557.0 90.3L557.2 93.3L555.7 96.3L555.7 98.0L556.8 99.8L558.6 101.0L559.1 102.7L560.1 104.4L562.7 106.0L562.8 109.0L563.9 113.7L564.9 116.3L564.5 118.7L562.5 121.3L561.9 126.7L562.1 127.5L564.0 128.7L564.3 129.7L563.7 142.0L564.6 146.0L563.7 148.3L564.6 151.0L564.1 154.5L564.8 155.2L566.8 155.9L568.4 157.1L571.1 158.2L571.4 159.3L570.4 163.0L574.7 165.0L573.4 167.3L568.3 171.0L566.1 174.0L564.3 177.7L563.0 179.0L562.5 180.3L562.6 181.7L563.9 183.3L564.5 184.7L566.8 186.2L567.4 188.8L568.8 189.2L573.4 189.1L574.3 189.7L574.8 191.0L574.2 192.7L572.4 193.7L568.4 193.2L566.1 192.3L564.8 192.6L564.0 193.3L563.8 195.0L564.6 197.3L563.1 200.0L561.7 201.0L564.4 204.2L564.5 205.3L563.9 207.7L566.8 213.0L565.7 214.7L564.4 217.7ZM680.1 217.7L671.8 217.7L672.2 215.7L672.0 212.7L672.4 210.7L671.0 208.0L672.1 204.7L670.9 201.7L672.1 198.2L673.5 196.3L673.2 193.7L673.4 190.7L675.1 188.8L675.4 187.7L675.1 186.7L674.1 185.6L673.1 185.2L671.1 185.2L670.4 184.7L670.7 182.7L672.5 181.0L673.2 179.7L672.5 178.7L670.4 177.8L670.0 176.7L670.4 175.7L672.1 173.7L671.2 171.0L671.0 167.3L673.7 162.7L669.8 153.0L670.4 152.1L674.3 149.7L674.1 146.7L674.9 145.3L673.1 142.4L671.8 141.3L670.2 134.3L671.9 130.3L673.8 128.9L674.2 127.7L673.9 125.0L672.3 122.7L672.2 118.7L671.6 116.7L673.6 109.3L672.3 104.7L672.4 102.3L670.7 100.7L670.2 98.3L671.3 91.7L672.2 89.0L670.7 86.0L673.1 83.7L673.7 82.0L673.1 80.4L670.7 78.7L670.4 77.0L671.0 75.3L672.5 73.7L672.9 71.3L674.7 68.0L674.8 67.0L674.4 66.2L673.4 65.7L670.4 66.4L669.6 66.0L669.5 64.7L671.6 62.7L680.1 62.7L680.1 217.7Z"/>
<path fill="#dcfc00" fill-rule="evenodd" d="M556.1 217.7L546.8 217.7L546.8 62.7L548.3 62.7L549.3 67.7L549.1 73.7L548.6 77.0L549.4 81.7L548.8 84.0L548.6 94.0L550.4 99.9L552.9 100.7L555.4 103.7L557.3 107.7L557.1 108.3L555.4 109.7L554.6 112.0L553.4 113.3L553.8 114.0L555.8 114.3L556.2 115.7L556.3 117.7L555.4 119.7L555.5 122.3L555.1 124.7L556.1 126.3L556.1 127.3L555.6 128.7L553.8 131.0L555.0 133.0L555.1 134.3L553.6 137.0L553.3 140.0L552.8 140.6L550.6 141.7L550.0 144.0L552.2 148.3L552.4 151.7L554.4 153.7L556.2 154.3L557.4 155.5L559.8 156.5L561.1 158.3L561.5 160.7L563.8 164.3L564.2 165.7L563.5 167.3L557.8 171.1L554.1 172.3L552.1 172.1L551.1 172.5L549.4 174.5L548.6 177.3L548.8 180.0L550.0 182.7L549.9 185.0L550.7 188.0L550.4 188.9L549.1 190.3L548.9 191.3L549.4 191.9L551.8 191.2L553.8 192.2L555.7 195.3L555.9 197.7L556.7 200.0L556.5 201.3L555.1 202.7L555.0 204.7L554.0 206.7L555.4 209.3L555.0 213.0L556.6 215.7L556.1 217.7ZM680.1 217.7L679.4 217.7L678.3 214.7L678.9 211.3L678.7 208.3L679.4 204.7L678.7 201.0L678.9 198.0L677.9 195.7L679.4 193.6L679.9 192.3L679.8 190.7L678.9 188.3L679.4 182.7L678.5 177.7L676.4 175.7L678.2 174.0L678.7 172.7L678.2 169.7L678.8 164.0L678.1 159.7L679.1 156.3L678.2 149.0L679.2 146.3L679.4 139.3L677.9 133.3L678.6 130.0L679.1 120.3L677.9 116.0L679.5 104.7L679.1 103.3L677.3 101.0L677.5 99.0L677.2 97.0L678.4 94.3L679.3 89.7L678.0 85.7L679.0 82.7L677.5 79.0L679.3 76.0L679.2 74.7L678.3 72.7L678.8 70.3L678.4 68.0L679.5 62.7L680.1 62.7L680.1 217.7ZM558.4 125.4L558.1 125.5L557.9 125.0L558.8 124.3L558.4 125.4ZM553.8 185.5L552.8 185.6L551.7 184.7L551.2 183.3L551.8 182.5L553.1 182.3L554.2 183.0L554.4 184.3L553.8 185.5Z"/>
<path fill="#ffa000" fill-rule="evenodd" d="M546.8 88.7L546.8 64.1L547.3 71.0L546.8 75.7L547.2 80.7L546.8 88.7ZM546.8 190.0L546.8 90.6L546.9 94.3L548.1 101.3L547.7 105.0L549.0 113.7L548.6 118.0L549.6 125.3L548.8 129.3L549.2 137.0L547.7 139.7L547.2 143.0L548.3 148.3L548.4 151.3L549.9 155.7L549.7 161.0L548.8 164.0L550.0 167.3L548.2 170.3L547.3 173.7L546.9 183.3L547.4 186.7L546.8 190.0ZM680.1 100.0L680.1 96.9L680.1 100.0ZM548.1 217.7L546.8 217.7L546.8 192.6L548.0 196.3L548.6 200.0L548.1 205.0L548.8 207.3L549.1 209.7L550.3 212.3L548.8 215.3L548.1 217.7Z"/>
<path fill="#ff2800" fill-rule="evenodd" d="M546.8 117.8L546.8 108.6L547.1 114.0L546.8 117.8ZM546.8 137.8L546.8 120.4L547.2 124.3L546.8 137.8ZM546.8 169.1L546.8 150.3L547.2 154.3L546.9 157.7L547.3 160.3L546.8 169.1ZM546.8 202.2L546.8 198.5L546.8 202.2ZM546.8 217.0L546.8 206.8L547.3 213.7L546.8 217.0Z"/>
</g>
<path d="M546.80 217.70v-1.8M546.80 62.50v1.8M590.50 217.70v-1.8M590.50 62.50v1.8M634.20 217.70v-1.8M634.20 62.50v1.8M677.90 217.70v-1.8M677.90 62.50v1.8M546.60 76.30h1.8M680.20 76.30h-1.8M546.60 98.28h1.8M680.20 98.28h-1.8M546.60 120.27h1.8M680.20 120.27h-1.8M546.60 142.25h1.8M680.20 142.25h-1.8M546.60 164.24h1.8M680.20 164.24h-1.8M546.60 186.22h1.8M680.20 186.22h-1.8M546.60 208.20h1.8M680.20 208.20h-1.8" stroke="#222" stroke-width="0.9" fill="none"/>
<rect x="546.60" y="62.50" width="133.60" height="155.20" fill="none" stroke="#1a1a1a" stroke-width="1.1"/>
<text x="613.40" y="52.5" text-anchor="middle" class="ti">Vort. Mod., SSF = 8</text>
<text x="546.80" y="231.5" text-anchor="middle" class="t">0</text>
<text x="590.50" y="231.5" text-anchor="middle" class="t">10</text>
<text x="634.20" y="231.5" text-anchor="middle" class="t">20</text>
<text x="677.90" y="231.5" text-anchor="middle" class="t">30</text>
<text x="543.30" y="80.39" text-anchor="end" class="t">15</text>
<text x="543.30" y="102.38" text-anchor="end" class="t">10</text>
<text x="543.30" y="124.36" text-anchor="end" class="t">5</text>
<text x="543.30" y="146.35" text-anchor="end" class="t">0</text>
<text x="543.30" y="168.34" text-anchor="end" class="t">−5</text>
<text x="543.30" y="190.32" text-anchor="end" class="t">−10</text>
<text x="543.30" y="212.30" text-anchor="end" class="t">−15</text>
<text x="615.30" y="250" text-anchor="middle" class="ax">x [mm]</text>
<text transform="translate(12.3 138.8) rotate(-90)" text-anchor="middle" class="al">z [mm]</text>
</svg>
</body></html>
